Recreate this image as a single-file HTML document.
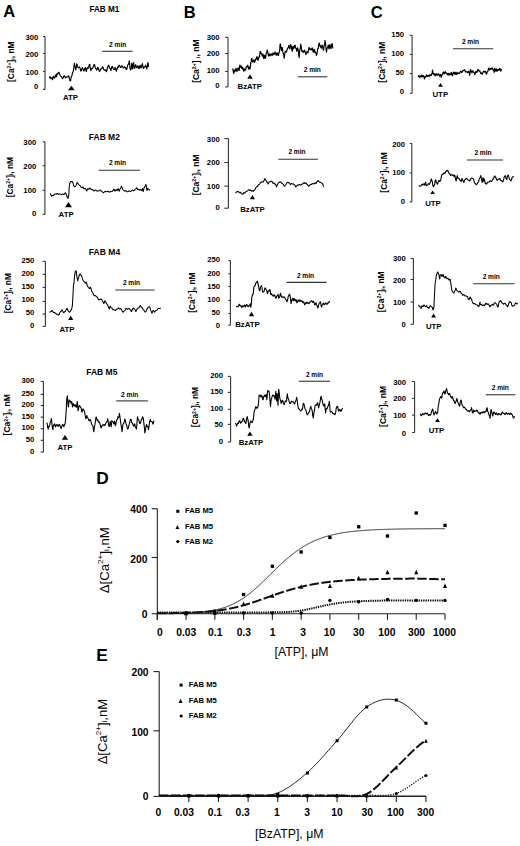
<!DOCTYPE html>
<html><head><meta charset="utf-8"><style>
html,body{margin:0;padding:0;background:#fff;overflow:hidden;width:520px;height:846px;}
svg{display:block;font-family:"Liberation Sans", sans-serif;}
</style></head><body>
<svg width="520" height="846" viewBox="0 0 520 846">
<rect width="520" height="846" fill="#fff"/>
<text x="9.2" y="17.3" font-size="16.5" font-weight="bold" text-anchor="middle" >A</text>
<text x="189.7" y="17.5" font-size="16.5" font-weight="bold" text-anchor="middle" >B</text>
<text x="376.6" y="18" font-size="16.5" font-weight="bold" text-anchor="middle" >C</text>
<text x="96.2" y="483.5" font-size="17.3" font-weight="bold" text-anchor="start" >D</text>
<text x="96.3" y="661.2" font-size="17.3" font-weight="bold" text-anchor="start" >E</text>
<text x="104.4" y="11.6" font-size="8.3" font-weight="bold" text-anchor="middle" textLength="30" lengthAdjust="spacingAndGlyphs">FAB M1</text>
<line x1="45" y1="36.5" x2="45" y2="89.4" stroke="#333" stroke-width="1.1"/>
<line x1="43" y1="36.5" x2="45" y2="36.5" stroke="#333" stroke-width="1.1"/>
<line x1="43" y1="53.5" x2="45" y2="53.5" stroke="#333" stroke-width="1.1"/>
<line x1="43" y1="71.5" x2="45" y2="71.5" stroke="#333" stroke-width="1.1"/>
<line x1="43" y1="89.4" x2="45" y2="89.4" stroke="#333" stroke-width="1.1"/>
<text x="38.4" y="39.95" font-size="7.7" font-weight="bold" text-anchor="end" >300</text>
<text x="38.4" y="57.15" font-size="7.7" font-weight="bold" text-anchor="end" >200</text>
<text x="38.4" y="75.25" font-size="7.7" font-weight="bold" text-anchor="end" >100</text>
<text x="38.4" y="89.45" font-size="7.7" font-weight="bold" text-anchor="end" >0</text>
<text transform="translate(11.2,61.7) rotate(-90)" x="0" y="0" font-size="8.4" font-weight="bold" text-anchor="middle" dominant-baseline="central" textLength="40.6" lengthAdjust="spacingAndGlyphs">[Ca<tspan font-size="5.21" dy="-1.9">2+</tspan><tspan dy="1.9">]</tspan><tspan font-size="5.21" dy="1.6">i</tspan><tspan dy="-1.6">, nM</tspan></text>
<path d="M49.4 78.2 L49.9 76.77 L50.4 77.2 L50.85 78.71 L51.3 78.2 L51.8 77.85 L52.3 79.6 L52.65 79.56 L53 77.2 L53.6 76.44 L54.2 77.7 L54.7 78.14 L55.2 76.3 L55.65 75.05 L56.1 74.8 L56.35 76.62 L56.6 76.8 L57 73.94 L57.4 73.4 L57.85 74.1 L58.3 72.9 L58.9 72.27 L59.5 73.9 L60.2 75.66 L60.9 76.3 L61.65 76.68 L62.4 78.7 L62.95 78.41 L63.5 76.8 L64.15 75.68 L64.8 76.3 L65.3 77.89 L65.8 77.7 L66.5 76.76 L67.2 76.8 L67.9 76.94 L68.6 75.8 L68.95 76.32 L69.3 78.2 L69.95 80.69 L70.6 80.9 L71.05 77.57 L71.5 76.3 L71.85 75.89 L72.2 74.3 L72.6 72.3 L73 72.4 L73.35 71.08 L73.7 68.6 L74.05 65.03 L74.4 63.3 L74.75 65.77 L75.1 67.1 L75.45 68.07 L75.8 70 L76.2 68.01 L76.6 63.8 L77.1 64.62 L77.6 66.7 L78.15 67.79 L78.7 67.6 L79.45 66.91 L80.2 68.6 L80.65 70.91 L81.1 71 L81.85 68.61 L82.6 67.6 L83.3 70.47 L84 71 L84.75 68.43 L85.5 67.6 L85.95 70.52 L86.4 71.5 L86.9 68.92 L87.4 67.6 L88.1 68.31 L88.8 66.7 L89.3 64.52 L89.8 64.3 L90.3 68.58 L90.8 70.5 L91.5 68.43 L92.2 68.6 L92.9 67.85 L93.6 65.7 L94.1 64.46 L94.6 64.7 L95.1 67.2 L95.6 68.5 L96.1 68.72 L96.6 70.1 L97.15 69.28 L97.7 67.4 L98.25 67.75 L98.8 69.5 L99.3 71.26 L99.8 71.2 L100.5 69.37 L101.2 68.5 L101.85 68.62 L102.5 66.8 L103.05 67.18 L103.6 69 L104.25 70.25 L104.9 70.1 L105.6 69.83 L106.3 71.7 L106.85 70.63 L107.4 67.9 L108.1 65.84 L108.8 65.2 L109.35 67.68 L109.9 68.5 L110.4 68.56 L110.9 70.6 L111.3 69.22 L111.7 66.8 L112.4 66.47 L113.1 68.5 L113.75 69.5 L114.4 69.5 L114.95 67.68 L115.5 67.9 L116 70.64 L116.5 71.2 L117.15 68.51 L117.8 66.8 L118.35 67.05 L118.9 65.2 L119.6 65.56 L120.3 67.4 L121 67.5 L121.7 65.8 L122.45 66.36 L123.2 67.9 L123.9 67.86 L124.6 66.8 L125.4 67.54 L126.2 69.5 L126.75 69.32 L127.3 66.8 L127.85 64.88 L128.4 64.2 L128.8 63.57 L129.2 60.9 L129.6 63.25 L130 67.9 L130.55 69.86 L131.1 69.5 L131.45 65.57 L131.8 63.1 L132.25 66.79 L132.7 69 L133.15 64.89 L133.6 62.5 L134.1 66.54 L134.6 68.5 L135.15 66.04 L135.7 64.7 L136.35 67.32 L137 67.9 L137.55 65.8 L138.1 65.8 L138.65 68.25 L139.2 68.5 L139.7 66.34 L140.2 65.2 L140.75 67.71 L141.3 67.9 L141.85 65.2 L142.4 63.6 L142.95 66.78 L143.5 68.5 L144 66.73 L144.5 66.8 L145.05 67.14 L145.6 65.2 L146.15 66.38 L146.7 69 L147.25 66.9 L147.8 62.5 L148.2 63.78 L148.6 66.8" fill="none" stroke="#000" stroke-width="1.15" stroke-linejoin="round"/>
<line x1="102.2" y1="51.3" x2="132.5" y2="51.3" stroke="#333" stroke-width="1.1"/>
<text x="117.7" y="47.3" font-size="6.6" font-weight="bold" text-anchor="middle" >2 min</text>
<path d="M68.1 90.3 L74.7 90.3 L71.4 85.7 Z" fill="#000"/>
<text x="70.5" y="99.75" font-size="7.8" font-weight="bold" text-anchor="middle" >ATP</text>
<text x="104.35" y="139.5" font-size="8.3" font-weight="bold" text-anchor="middle" textLength="31" lengthAdjust="spacingAndGlyphs">FAB M2</text>
<line x1="44.9" y1="141.8" x2="44.9" y2="214.4" stroke="#333" stroke-width="1.1"/>
<line x1="42.6" y1="141.8" x2="44.9" y2="141.8" stroke="#333" stroke-width="1.1"/>
<line x1="42.6" y1="165.7" x2="44.9" y2="165.7" stroke="#333" stroke-width="1.1"/>
<line x1="42.6" y1="190.3" x2="44.9" y2="190.3" stroke="#333" stroke-width="1.1"/>
<line x1="42.6" y1="214.4" x2="44.9" y2="214.4" stroke="#333" stroke-width="1.1"/>
<text x="36.2" y="145.05" font-size="7.7" font-weight="bold" text-anchor="end" >300</text>
<text x="36.2" y="168.85" font-size="7.7" font-weight="bold" text-anchor="end" >200</text>
<text x="36.2" y="193.05" font-size="7.7" font-weight="bold" text-anchor="end" >100</text>
<text x="36.2" y="215.65" font-size="7.7" font-weight="bold" text-anchor="end" >0</text>
<text transform="translate(9.8,177.1) rotate(-90)" x="0" y="0" font-size="8.4" font-weight="bold" text-anchor="middle" dominant-baseline="central" textLength="40.4" lengthAdjust="spacingAndGlyphs">[Ca<tspan font-size="5.21" dy="-1.9">2+</tspan><tspan dy="1.9">]</tspan><tspan font-size="5.21" dy="1.6">i</tspan><tspan dy="-1.6">, nM</tspan></text>
<path d="M50 193.5 L50.5 193.94 L51 195 L51.5 195.94 L52 196.2 L52.5 195.5 L53 195.5 L53.5 195.54 L54 194.8 L54.75 194.06 L55.5 194 L56.25 194.13 L57 193.5 L57.5 193.68 L58 194.2 L58.5 194.27 L59 193.8 L59.75 193.76 L60.5 194.5 L61.25 194.67 L62 194.2 L62.75 193.97 L63.5 194.5 L64 194.44 L64.5 194 L65 193.13 L65.5 192.8 L65.85 193.62 L66.2 194 L66.6 194.96 L67 196.5 L67.5 197.8 L68 198.5 L68.4 196.59 L68.8 195 L69 191.21 L69.2 187 L69.5 184.77 L69.8 183 L70.15 182.78 L70.5 181.8 L71 181.46 L71.5 181.8 L71.85 181.85 L72.2 181.5 L72.6 181.9 L73 183 L73.4 184.69 L73.8 186 L74.15 185.94 L74.5 186.5 L75 186.69 L75.5 186.5 L75.85 185.59 L76.2 185 L76.6 184.12 L77 182.5 L77.5 182.79 L78 183.5 L78.75 184.71 L79.5 185.5 L80.25 185.85 L81 187 L81.5 187.77 L82 187.8 L82.5 187.17 L83 187 L83.6 188.39 L84.2 189 L84.85 188.46 L85.5 188.5 L86.15 190.07 L86.8 191 L87.4 189.54 L88 188.5 L88.5 189.14 L89 189 L89.5 188.17 L90 188 L90.75 189.14 L91.5 189.5 L92.25 189.38 L93 190 L93.6 190.73 L94.2 191 L94.85 190.25 L95.5 190 L96.25 190.7 L97 191 L97.5 190.86 L98 191.1 L98.8 191.03 L99.6 190.6 L100.1 190.12 L100.6 190.1 L101.1 191.05 L101.6 191.4 L102.4 191.89 L103.2 192.7 L103.7 192.72 L104.2 192.1 L104.75 191.51 L105.3 191.4 L106.05 191.83 L106.8 191.8 L107.6 191.24 L108.4 191.4 L109.15 192.03 L109.9 192.1 L110.7 191.61 L111.5 191.6 L112.3 191.28 L113.1 190.4 L113.6 189.52 L114.1 189.3 L114.6 190.37 L115.1 191.1 L115.65 189.91 L116.2 189.5 L116.7 190.22 L117.2 190.6 L117.7 189.31 L118.2 188.7 L118.75 190.26 L119.3 191.1 L119.8 189.64 L120.3 188.5 L120.85 187.8 L121.4 186.4 L121.9 187.1 L122.4 188.3 L122.9 189.5 L123.4 190.1 L123.95 190.44 L124.5 191.1 L125.15 191.02 L125.8 190.6 L126.45 191 L127.1 191.8 L127.85 191.84 L128.6 191.1 L129.4 191.04 L130.2 191.4 L130.95 191.34 L131.7 190.6 L132.5 190.12 L133.3 190.4 L133.95 190.64 L134.6 190.1 L135.1 189.31 L135.6 189 L136.1 188.6 L136.6 187.7 L137.05 188.31 L137.5 189.5 L138 189.75 L138.5 189.3 L139 189.51 L139.5 190.1 L140.05 190.14 L140.6 189.5 L141.1 189.7 L141.6 190.6 L142 189.92 L142.4 188.5 L142.8 189.88 L143.2 191.6 L143.55 190.44 L143.9 188.5 L144.3 187.52 L144.7 186.9 L145.15 185.99 L145.6 184.6 L145.95 184.94 L146.3 185.9 L146.65 188.63 L147 190.6 L147.4 189.21 L147.8 188.3 L148.35 189.28 L148.9 189.5 L149.3 189.66 L149.7 190.4" fill="none" stroke="#000" stroke-width="1.05" stroke-linejoin="round"/>
<line x1="98.5" y1="170.3" x2="140" y2="170.3" stroke="#333" stroke-width="1.1"/>
<text x="117.5" y="165.2" font-size="6.6" font-weight="bold" text-anchor="middle" >2 min</text>
<path d="M65 207.2 L72 207.2 L68.5 202 Z" fill="#000"/>
<text x="66.1" y="216.6" font-size="7.8" font-weight="bold" text-anchor="middle" >ATP</text>
<text x="104.5" y="254.6" font-size="8.3" font-weight="bold" text-anchor="middle" textLength="31.3" lengthAdjust="spacingAndGlyphs">FAB M4</text>
<line x1="45.4" y1="261.4" x2="45.4" y2="326.4" stroke="#333" stroke-width="1.1"/>
<line x1="42.6" y1="261.4" x2="45.4" y2="261.4" stroke="#333" stroke-width="1.1"/>
<line x1="42.6" y1="274.4" x2="45.4" y2="274.4" stroke="#333" stroke-width="1.1"/>
<line x1="42.6" y1="287.4" x2="45.4" y2="287.4" stroke="#333" stroke-width="1.1"/>
<line x1="42.6" y1="301.4" x2="45.4" y2="301.4" stroke="#333" stroke-width="1.1"/>
<line x1="42.6" y1="314.1" x2="45.4" y2="314.1" stroke="#333" stroke-width="1.1"/>
<line x1="42.6" y1="326.4" x2="45.4" y2="326.4" stroke="#333" stroke-width="1.1"/>
<text x="34.3" y="262.75" font-size="7.7" font-weight="bold" text-anchor="end" >250</text>
<text x="34.3" y="275.65" font-size="7.7" font-weight="bold" text-anchor="end" >200</text>
<text x="34.3" y="288.95" font-size="7.7" font-weight="bold" text-anchor="end" >150</text>
<text x="34.3" y="302.25" font-size="7.7" font-weight="bold" text-anchor="end" >100</text>
<text x="34.3" y="314.95" font-size="7.7" font-weight="bold" text-anchor="end" >50</text>
<text x="34.3" y="328.25" font-size="7.7" font-weight="bold" text-anchor="end" >0</text>
<text transform="translate(7.9,293.2) rotate(-90)" x="0" y="0" font-size="8.4" font-weight="bold" text-anchor="middle" dominant-baseline="central" textLength="40.2" lengthAdjust="spacingAndGlyphs">[Ca<tspan font-size="5.21" dy="-1.9">2+</tspan><tspan dy="1.9">]</tspan><tspan font-size="5.21" dy="1.6">i</tspan><tspan dy="-1.6">, nM</tspan></text>
<path d="M49.6 312.6 L50.15 311.66 L50.7 311.5 L51.25 311.42 L51.8 310.5 L52.3 310.56 L52.8 311.5 L53.35 312.53 L53.9 312.6 L54.7 312.58 L55.5 313.4 L56.25 314.13 L57 313.9 L57.8 314.34 L58.6 315.2 L59.15 314.49 L59.7 313.1 L60.2 311.82 L60.7 311.5 L61.25 311.14 L61.8 310 L62.35 310.28 L62.9 311.5 L63.4 312.38 L63.9 312.8 L64.45 311.81 L65 311.5 L65.5 311.02 L66 310 L66.55 308.84 L67.1 308.4 L67.65 310.07 L68.2 311 L68.7 311.35 L69.2 312.1 L69.75 312.07 L70.3 311.5 L70.9 310.17 L71.5 309.4 L71.95 307.77 L72.4 305.2 L72.65 300.52 L72.9 296.7 L73.15 291.7 L73.4 286.2 L73.7 284.16 L74 283 L74.25 280.04 L74.5 276.6 L74.9 273.56 L75.3 271.3 L75.7 271.29 L76.1 270.8 L76.45 273 L76.8 275.6 L77.25 278.71 L77.7 280.9 L78.1 279.04 L78.5 277.7 L78.9 276.61 L79.3 275 L79.8 274.01 L80.3 274 L80.85 275.26 L81.4 275.6 L81.9 276.86 L82.4 278.7 L83.1 280.54 L83.8 281.4 L84.45 281.84 L85.1 283 L85.6 282.85 L86.1 281.9 L86.65 283.49 L87.2 285.6 L87.85 286.88 L88.5 287.2 L88.9 287.59 L89.3 288.8 L89.85 288.49 L90.4 287.2 L90.9 288.08 L91.4 289.9 L91.95 291.49 L92.5 292.5 L93 293.24 L93.5 294.6 L94.05 295.4 L94.6 295.7 L95.15 295.46 L95.7 295.7 L96.2 296.42 L96.7 296.7 L97.25 297.21 L97.8 298.3 L98.3 299.48 L98.8 299.9 L99.35 299.45 L99.9 299.4 L100.25 299.55 L100.6 298.9 L101.2 298.9 L101.8 299.5 L102.4 300.99 L103 301.9 L103.4 302.35 L103.8 303.7 L104.3 302.54 L104.8 300.7 L105.4 301.31 L106 302.5 L106.6 303.74 L107.2 304.3 L107.75 305.09 L108.3 306.7 L108.8 308.12 L109.3 309.1 L109.7 307.11 L110.1 306.1 L110.7 307.21 L111.3 307.9 L111.9 308.08 L112.5 309.1 L113.1 309.85 L113.7 309.7 L114.3 309.79 L114.9 310.3 L115.5 310.44 L116.1 309.7 L116.7 309.09 L117.3 309.1 L117.9 308.87 L118.5 307.9 L119.1 308.3 L119.7 309.1 L120.3 309.01 L120.9 308.5 L121.5 309.45 L122.1 310.9 L122.65 311.99 L123.2 312.1 L123.8 311.24 L124.4 310.9 L125 310.43 L125.6 309.1 L126.2 308.32 L126.8 308.5 L127.4 309.28 L128 309.1 L128.6 308.5 L129.2 308.5 L129.8 309.41 L130.4 309.7 L130.8 310.24 L131.2 311.5 L131.7 311.03 L132.2 309.7 L132.8 308.57 L133.4 307.9 L134 308.92 L134.6 309.1 L135.2 309.86 L135.8 311.5 L136.4 310.76 L137 309.1 L137.6 308.29 L138.2 307.9 L138.75 308.08 L139.3 307.3 L139.8 306.17 L140.3 305.5 L140.9 306.7 L141.5 307.3 L142.1 307.52 L142.7 308.5 L143.3 309.88 L143.9 310.3 L144.5 310.9 L145.1 312.1 L145.8 311.68 L146.5 310.3 L147.1 308.74 L147.7 307.9 L148.3 307.59 L148.9 306.7 L149.5 307 L150.1 307.9 L150.55 309.65 L151 310.9 L151.45 311.88 L151.9 313.3 L152.5 312.04 L153.1 310.3 L153.7 310.79 L154.3 312.1 L154.85 312 L155.4 310.9 L156 310.35 L156.6 310.3 L157.2 309.91 L157.8 309.1 L158.4 308.3 L159 308.5 L159.9 308.56 L160.8 307.9" fill="none" stroke="#000" stroke-width="1.05" stroke-linejoin="round"/>
<line x1="115.4" y1="290" x2="154.6" y2="290" stroke="#333" stroke-width="1.1"/>
<text x="131.5" y="285.2" font-size="6.6" font-weight="bold" text-anchor="middle" >2 min</text>
<path d="M68.05 319.9 L73.35 319.9 L70.7 315.8 Z" fill="#000"/>
<text x="67" y="332" font-size="7.8" font-weight="bold" text-anchor="middle" >ATP</text>
<text x="101.8" y="374.6" font-size="8.3" font-weight="bold" text-anchor="middle" textLength="31.2" lengthAdjust="spacingAndGlyphs">FAB M5</text>
<line x1="43.4" y1="381.4" x2="43.4" y2="452.1" stroke="#333" stroke-width="1.1"/>
<line x1="40.7" y1="381.4" x2="43.4" y2="381.4" stroke="#333" stroke-width="1.1"/>
<line x1="40.7" y1="394.4" x2="43.4" y2="394.4" stroke="#333" stroke-width="1.1"/>
<line x1="40.7" y1="405.5" x2="43.4" y2="405.5" stroke="#333" stroke-width="1.1"/>
<line x1="40.7" y1="417.1" x2="43.4" y2="417.1" stroke="#333" stroke-width="1.1"/>
<line x1="40.7" y1="428.7" x2="43.4" y2="428.7" stroke="#333" stroke-width="1.1"/>
<line x1="40.7" y1="440.3" x2="43.4" y2="440.3" stroke="#333" stroke-width="1.1"/>
<line x1="40.7" y1="452.1" x2="43.4" y2="452.1" stroke="#333" stroke-width="1.1"/>
<text x="34.3" y="382.95" font-size="7.7" font-weight="bold" text-anchor="end" >300</text>
<text x="34.3" y="395.75" font-size="7.7" font-weight="bold" text-anchor="end" >250</text>
<text x="34.3" y="407.05" font-size="7.7" font-weight="bold" text-anchor="end" >200</text>
<text x="34.3" y="418.95" font-size="7.7" font-weight="bold" text-anchor="end" >150</text>
<text x="34.3" y="430.25" font-size="7.7" font-weight="bold" text-anchor="end" >100</text>
<text x="34.3" y="442.05" font-size="7.7" font-weight="bold" text-anchor="end" >50</text>
<text x="34.3" y="453.95" font-size="7.7" font-weight="bold" text-anchor="end" >0</text>
<text transform="translate(7.4,414.8) rotate(-90)" x="0" y="0" font-size="8.4" font-weight="bold" text-anchor="middle" dominant-baseline="central" textLength="41.2" lengthAdjust="spacingAndGlyphs">[Ca<tspan font-size="5.21" dy="-1.9">2+</tspan><tspan dy="1.9">]</tspan><tspan font-size="5.21" dy="1.6">i</tspan><tspan dy="-1.6">, nM</tspan></text>
<path d="M46.6 422.8 L46.95 422.83 L47.3 424.4 L47.75 427.6 L48.2 429.1 L48.6 426.67 L49 426 L49.4 426.42 L49.8 424.9 L50.15 422.46 L50.5 421.7 L50.9 421.1 L51.3 418.6 L51.75 421.88 L52.2 426 L52.55 428.53 L52.9 429.7 L53.3 426.33 L53.7 424.9 L54.1 425.14 L54.5 423.8 L54.95 424.46 L55.4 427 L55.9 426.42 L56.4 424.9 L56.95 424.47 L57.5 425.4 L58 426.25 L58.5 426 L59.05 424.47 L59.6 424.4 L59.95 426.19 L60.3 426.5 L60.7 427.14 L61.1 428.6 L61.5 427.83 L61.9 426 L62.45 424.63 L63 424.4 L63.5 426.4 L64 426.5 L64.45 424.59 L64.9 424.4 L65.25 422.5 L65.6 419.6 L65.9 414.52 L66.2 411.2 L66.35 407.43 L66.5 402.7 L66.75 399.28 L67 397.4 L67.2 397.08 L67.4 395.8 L67.6 398.85 L67.8 402.7 L68.15 405.72 L68.5 406.9 L68.8 402.92 L69.1 400 L69.65 401.08 L70.2 401.1 L70.55 401.16 L70.9 403.2 L71.3 403.32 L71.7 401.6 L72.1 403.68 L72.5 406.9 L72.9 406.28 L73.3 403.7 L73.85 404.08 L74.4 405.9 L74.95 406.16 L75.5 404.8 L75.85 405.63 L76.2 407.5 L76.75 405.51 L77.3 401.6 L77.65 405.29 L78 410.6 L78.4 409.73 L78.8 406.9 L79.35 405.46 L79.9 405.9 L80.45 407.28 L81 407.5 L81.4 409.23 L81.8 412.2 L82.15 411.65 L82.5 410.1 L82.9 409.06 L83.3 409 L83.8 410.54 L84.3 411.2 L84.75 412.97 L85.2 415.9 L85.6 418.01 L86 418.6 L86.4 416.6 L86.8 415.4 L87.3 417.51 L87.8 418 L88.35 418.75 L88.9 420.7 L89.4 420.74 L89.9 419.6 L90.45 419.76 L91 421.7 L91.55 423.99 L92.1 424.9 L92.6 425.36 L93.1 427 L93.5 430.09 L93.9 431.8 L94.3 428.08 L94.7 426 L95.15 423.23 L95.6 419.6 L95.95 417.31 L96.3 417 L96.85 419.26 L97.4 420.7 L97.7 419.8 L98 420.6 L98.55 422.06 L99.1 421.7 L99.65 422.69 L100.2 424.5 L100.75 427.07 L101.3 427.9 L101.9 425.88 L102.5 425.1 L103.05 425.55 L103.6 424.5 L104.15 424.64 L104.7 425.6 L105.25 424.93 L105.8 423.4 L106.35 422.04 L106.9 421.7 L107.35 421.27 L107.8 418.9 L108.2 421.48 L108.6 425.1 L109.05 426.5 L109.5 426.2 L109.9 422.74 L110.3 421.2 L110.75 424.92 L111.2 426.7 L111.55 423.04 L111.9 420.6 L112.35 421.76 L112.8 421.7 L113.2 422.14 L113.6 424 L114.05 423.47 L114.5 421.2 L114.9 422.94 L115.3 425.6 L115.7 425.05 L116.1 422.8 L116.55 420.27 L117 419.5 L117.45 419.02 L117.9 416.7 L118.25 416.83 L118.6 417.8 L119 416.57 L119.4 413.4 L119.85 416 L120.3 419.5 L120.75 423.15 L121.2 425.6 L121.6 427.93 L122 431.8 L122.4 429.4 L122.8 425.1 L123.35 423.35 L123.9 422.8 L124.35 421.8 L124.8 418.9 L125.25 419.87 L125.7 422.3 L126.05 423.99 L126.4 424.5 L126.8 425.61 L127.2 427.9 L127.65 428.96 L128.1 429 L128.55 426.6 L129 425.1 L129.55 423.34 L130.1 420.6 L130.65 419.24 L131.2 419.5 L131.6 422.15 L132 422.8 L132.4 423.15 L132.8 424.5 L133.35 425.78 L133.9 426.2 L134.35 424.11 L134.8 424 L135.25 426.67 L135.7 427.9 L136.1 427.81 L136.5 429 L136.75 425.89 L137 421.7 L137.3 418.44 L137.6 416.7 L138 419 L138.4 419.5 L138.85 420.23 L139.3 422.3 L139.85 423.5 L140.4 423.4 L140.95 421.02 L141.5 419.5 L142.05 419.05 L142.6 416.7 L143.05 417.68 L143.5 419.5 L143.9 423.8 L144.3 426.7 L144.55 428.9 L144.8 432.9 L145.25 431.13 L145.7 428.4 L146.15 425.61 L146.6 424.5 L147.1 426.32 L147.6 426.2 L148 427.07 L148.4 429.5 L148.85 427.62 L149.3 424 L149.75 421.29 L150.2 419.5 L150.75 421.26 L151.3 421.7 L151.85 421.51 L152.4 422.3 L152.8 424.06 L153.2 424 L153.6 421.72 L154 420.6" fill="none" stroke="#000" stroke-width="1.1" stroke-linejoin="round"/>
<line x1="116.2" y1="400.9" x2="147.9" y2="400.9" stroke="#333" stroke-width="1.1"/>
<text x="129.7" y="396.5" font-size="6.6" font-weight="bold" text-anchor="middle" >2 min</text>
<path d="M61.85 439.8 L68.15 439.8 L65 435.1 Z" fill="#000"/>
<text x="65" y="450" font-size="7.8" font-weight="bold" text-anchor="middle" >ATP</text>
<line x1="228" y1="37.3" x2="228" y2="86.9" stroke="#333" stroke-width="1.1"/>
<line x1="225.2" y1="37.3" x2="228" y2="37.3" stroke="#333" stroke-width="1.1"/>
<line x1="225.2" y1="53.5" x2="228" y2="53.5" stroke="#333" stroke-width="1.1"/>
<line x1="225.2" y1="71.5" x2="228" y2="71.5" stroke="#333" stroke-width="1.1"/>
<line x1="225.2" y1="86.9" x2="228" y2="86.9" stroke="#333" stroke-width="1.1"/>
<text x="219.6" y="40.05" font-size="7.7" font-weight="bold" text-anchor="end" >300</text>
<text x="219.6" y="56.25" font-size="7.7" font-weight="bold" text-anchor="end" >200</text>
<text x="219.6" y="73.15" font-size="7.7" font-weight="bold" text-anchor="end" >100</text>
<text x="219.6" y="88.15" font-size="7.7" font-weight="bold" text-anchor="end" >0</text>
<text transform="translate(196,61.2) rotate(-90)" x="0" y="0" font-size="8.4" font-weight="bold" text-anchor="middle" dominant-baseline="central" textLength="43.3" lengthAdjust="spacingAndGlyphs">[Ca<tspan font-size="5.21" dy="-1.9">2+</tspan><tspan dy="1.9">] </tspan><tspan font-size="5.21" dy="1.6">i</tspan><tspan dy="-1.6">, nM</tspan></text>
<path d="M232.5 69.5 L232.85 68.86 L233.2 71 L233.6 73.52 L234 73 L234.25 70.17 L234.5 70.5 L235 71.74 L235.5 69.5 L236 68.33 L236.5 70.2 L237 71.57 L237.5 69.5 L238 68 L238.5 68 L238.85 70.47 L239.2 70.5 L239.6 66.01 L240 65 L240.4 67.42 L240.8 67 L241.3 66.06 L241.8 68.5 L242.15 68.84 L242.5 67.5 L242.85 67.27 L243.2 69.5 L243.6 71.24 L244 71 L244.5 68.94 L245 69.5 L245.5 70.09 L246 68 L246.4 66.52 L246.8 66.5 L247.15 66.95 L247.5 65.5 L247.85 65.23 L248.2 67 L248.6 69.21 L249 68 L249.4 66.95 L249.8 69 L250.15 68.39 L250.5 66 L250.75 62.42 L251 62 L251.25 61.37 L251.5 59 L251.85 58.36 L252.2 60.5 L252.6 62.11 L253 62 L253.5 60.28 L254 60 L254.5 62.41 L255 61.5 L255.4 59.3 L255.8 59 L256.15 59.45 L256.5 58 L257 56.47 L257.5 58.5 L258 60.41 L258.5 59 L258.85 56.97 L259.2 57 L259.5 57.26 L259.8 54 L260.15 51.45 L260.5 51.5 L260.85 53.7 L261.2 53 L261.6 53.06 L262 55 L262.4 56.24 L262.8 54 L263.15 54.53 L263.5 58 L263.85 58.76 L264.2 56 L264.6 55.31 L265 58 L265.4 58.29 L265.8 56.5 L266.15 53.64 L266.5 53 L266.85 52.4 L267.2 50 L267.6 50.87 L268 53.5 L268.4 55.54 L268.8 56 L269.15 53.95 L269.5 54 L270 55.87 L270.5 55 L271 53.78 L271.5 54 L272 55.7 L272.5 54.5 L273 52.92 L273.5 53.5 L274 54.8 L274.5 54 L275 51.9 L275.5 53 L276 55.24 L276.5 55 L277 52.94 L277.5 53 L278 55.49 L278.5 55.5 L279 52.27 L279.5 52 L279.75 49.08 L280 44.6 L280.45 43.93 L280.9 46.8 L281.25 49.39 L281.6 50.5 L282 47.62 L282.4 47.8 L282.8 51.88 L283.2 52.7 L283.65 54.66 L284.1 58.1 L284.45 57.22 L284.8 53.2 L285.35 51.28 L285.9 51.6 L286.45 52.14 L287 50 L287.55 48.17 L288.1 47.8 L288.45 47.27 L288.8 45.2 L289.25 46.13 L289.7 48.9 L290.15 48.5 L290.6 44.6 L291.1 45.27 L291.6 47.8 L292 50.99 L292.4 51.1 L292.75 46.93 L293.1 46.2 L293.55 48.74 L294 47.8 L294.55 45.41 L295.1 45.2 L295.5 47.9 L295.9 48.4 L296.3 48.46 L296.7 51.1 L297.05 51.01 L297.4 47.8 L297.85 48.31 L298.3 50.5 L298.75 55.53 L299.2 57.5 L299.55 51.92 L299.9 49.5 L300.3 48.45 L300.7 44.1 L301.1 45.74 L301.5 48.9 L301.95 51.74 L302.4 51.1 L302.8 50.83 L303.2 52.2 L303.7 52.44 L304.2 50.5 L304.75 50.22 L305.3 52.7 L305.85 54.66 L306.4 53.2 L306.95 51.61 L307.5 52.2 L308 52.82 L308.5 50 L308.9 47.59 L309.3 47.8 L309.75 49.71 L310.2 49.5 L310.7 48.69 L311.2 50 L311.65 49.81 L312.1 47.8 L312.45 48.35 L312.8 50.5 L313.2 52.23 L313.6 52.2 L314.05 49.39 L314.5 49.5 L315 52.65 L315.5 52.2 L315.95 52.91 L316.4 55.4 L316.8 54.57 L317.2 52.2 L317.55 48.76 L317.9 48.9 L318.25 48.6 L318.6 45.7 L318.95 43.19 L319.3 43 L319.7 45.58 L320.1 46.2 L320.5 45.64 L320.9 47.8 L321.45 48.11 L322 45.2 L322.45 45.29 L322.9 47.8 L323.25 50.08 L323.6 50 L324 46.52 L324.4 44.6 L324.7 44.16 L325 40.3 L325.4 42.49 L325.8 46.2 L326.15 50.45 L326.5 52.2 L326.95 48.37 L327.4 47.8 L327.8 47.36 L328.2 45.2 L328.6 45.54 L329 48.9 L329.4 48.5 L329.8 44.6 L330.2 44.8 L330.6 47.8 L331.05 48.57 L331.5 46.2 L331.85 44.01 L332.2 43.5 L332.6 47.14 L333 48.4" fill="none" stroke="#000" stroke-width="1.15" stroke-linejoin="round"/>
<line x1="297.8" y1="76.8" x2="327.4" y2="76.8" stroke="#333" stroke-width="1.1"/>
<text x="312.3" y="71.5" font-size="6.6" font-weight="bold" text-anchor="middle" >2 min</text>
<path d="M247.25 78.7 L252.75 78.7 L250 74.6 Z" fill="#000"/>
<text x="249.8" y="88.7" font-size="7.8" font-weight="bold" text-anchor="middle" >BzATP</text>
<line x1="228.4" y1="138.6" x2="228.4" y2="208.2" stroke="#333" stroke-width="1.1"/>
<line x1="224.3" y1="138.6" x2="228.4" y2="138.6" stroke="#333" stroke-width="1.1"/>
<line x1="224.3" y1="162.5" x2="228.4" y2="162.5" stroke="#333" stroke-width="1.1"/>
<line x1="224.3" y1="186.1" x2="228.4" y2="186.1" stroke="#333" stroke-width="1.1"/>
<line x1="224.3" y1="208.2" x2="228.4" y2="208.2" stroke="#333" stroke-width="1.1"/>
<text x="219.7" y="141.85" font-size="7.7" font-weight="bold" text-anchor="end" >300</text>
<text x="219.7" y="165.25" font-size="7.7" font-weight="bold" text-anchor="end" >200</text>
<text x="219.7" y="188.65" font-size="7.7" font-weight="bold" text-anchor="end" >100</text>
<text x="219.7" y="210.45" font-size="7.7" font-weight="bold" text-anchor="end" >0</text>
<text transform="translate(195.9,174.9) rotate(-90)" x="0" y="0" font-size="8.4" font-weight="bold" text-anchor="middle" dominant-baseline="central" textLength="40.9" lengthAdjust="spacingAndGlyphs">[Ca<tspan font-size="5.21" dy="-1.9">2+</tspan><tspan dy="1.9">]</tspan><tspan font-size="5.21" dy="1.6">i</tspan><tspan dy="-1.6">, nM</tspan></text>
<path d="M235.6 193.2 L236.05 192.24 L236.5 191.9 L237.05 191.99 L237.6 191.4 L238.15 191.3 L238.7 191.9 L239.3 192.74 L239.9 192.8 L240.35 192.31 L240.8 192.5 L241.3 193.63 L241.8 194 L242.25 193.93 L242.7 194.2 L243.15 193.77 L243.6 192.8 L244.05 192.56 L244.5 193.1 L245 192.92 L245.5 192.1 L246.1 191.37 L246.7 191.4 L247.25 191.14 L247.8 190.5 L248.35 189.83 L248.9 189.7 L249.35 190.32 L249.8 190.5 L250.25 189.96 L250.7 190 L251.1 190.9 L251.5 191.2 L251.95 190.69 L252.4 190.5 L252.85 191.16 L253.3 191.4 L253.85 190.47 L254.4 190 L255 189.48 L255.6 188.2 L256.2 187.16 L256.8 186.8 L257.35 186.55 L257.9 185.9 L258.4 184.85 L258.9 184.5 L259.45 184.19 L260 183.5 L260.45 182.54 L260.9 182.2 L261.5 182.14 L262.1 181.7 L262.55 181.79 L263 182.2 L263.45 181.87 L263.9 180.8 L264.4 179.44 L264.9 178.5 L265.2 179.61 L265.5 180.3 L265.95 180.35 L266.4 181.2 L266.85 182.07 L267.3 182.2 L267.7 182.87 L268.1 184 L268.55 183.49 L269 182.2 L269.45 181.66 L269.9 181.7 L270.45 181.77 L271 181.2 L271.6 181.24 L272.2 181.7 L272.7 182.99 L273.2 183.5 L273.65 182.97 L274.1 183.1 L274.55 183.94 L275 184 L275.45 184.08 L275.9 184.9 L276.25 186.08 L276.6 186.8 L276.95 185.6 L277.3 184.9 L277.75 184.2 L278.2 183.1 L278.7 182.46 L279.2 182.2 L279.65 182.13 L280.1 181.7 L280.7 181.92 L281.3 182.6 L281.9 183.35 L282.5 183.5 L283.05 184.04 L283.6 184.9 L284.15 185.92 L284.7 186.3 L285.15 185.36 L285.6 184.9 L286.1 184.23 L286.6 183.1 L287.2 182.29 L287.8 182.2 L288.25 182.68 L288.7 182.6 L289.15 182.81 L289.6 183.5 L290.05 184.28 L290.5 184.5 L291 183.67 L291.5 183.5 L292.1 183.92 L292.7 184 L293.25 183.86 L293.8 184.5 L294.25 184.87 L294.7 184.9 L295.15 185.51 L295.6 186.8 L296.15 186.71 L296.7 185.9 L297.3 185.24 L297.9 184.9 L298.5 185.15 L299.1 184.7 L299.65 184.55 L300.2 184.9 L300.75 185 L301.3 184.5 L301.9 184.09 L302.5 184 L303 183.72 L303.5 183.1 L303.95 182.65 L304.4 182.6 L304.85 183.44 L305.3 183.5 L305.75 183.09 L306.2 183.1 L306.7 184.14 L307.2 184.5 L307.8 185.02 L308.4 186.3 L308.95 186.24 L309.5 185.4 L310.05 184.71 L310.6 184.5 L311.2 184.5 L311.8 184 L312.4 183.61 L313 183.8 L313.55 184 L314.1 183.5 L314.65 183.01 L315.2 182.9 L315.65 183.54 L316.1 183.5 L316.55 182.25 L317 181.7 L317.5 181.47 L318 180.5 L318.45 180.68 L318.9 181.2 L319.35 182.09 L319.8 182.2 L320.4 182.22 L321 182.6 L321.45 183.09 L321.9 183.1 L322.4 183.49 L322.9 184.5 L323.35 186.03 L323.8 186.8" fill="none" stroke="#000" stroke-width="1.05" stroke-linejoin="round"/>
<line x1="278.25" y1="159.25" x2="318" y2="159.25" stroke="#333" stroke-width="1.1"/>
<text x="297" y="154" font-size="6.6" font-weight="bold" text-anchor="middle" >2 min</text>
<path d="M249.85 199.3 L254.95 199.3 L252.4 194.9 Z" fill="#000"/>
<text x="252.4" y="211.7" font-size="7.8" font-weight="bold" text-anchor="middle" >BzATP</text>
<line x1="230.4" y1="260.5" x2="230.4" y2="325.3" stroke="#333" stroke-width="1.1"/>
<line x1="228.4" y1="260.5" x2="230.4" y2="260.5" stroke="#333" stroke-width="1.1"/>
<line x1="228.4" y1="273.8" x2="230.4" y2="273.8" stroke="#333" stroke-width="1.1"/>
<line x1="228.4" y1="286.5" x2="230.4" y2="286.5" stroke="#333" stroke-width="1.1"/>
<line x1="228.4" y1="300.4" x2="230.4" y2="300.4" stroke="#333" stroke-width="1.1"/>
<line x1="228.4" y1="313.5" x2="230.4" y2="313.5" stroke="#333" stroke-width="1.1"/>
<line x1="228.4" y1="325.3" x2="230.4" y2="325.3" stroke="#333" stroke-width="1.1"/>
<text x="220" y="262.35" font-size="7.7" font-weight="bold" text-anchor="end" >250</text>
<text x="220" y="276.05" font-size="7.7" font-weight="bold" text-anchor="end" >200</text>
<text x="220" y="289.25" font-size="7.7" font-weight="bold" text-anchor="end" >150</text>
<text x="220" y="302.05" font-size="7.7" font-weight="bold" text-anchor="end" >100</text>
<text x="220" y="315.15" font-size="7.7" font-weight="bold" text-anchor="end" >50</text>
<text x="220" y="328.05" font-size="7.7" font-weight="bold" text-anchor="end" >0</text>
<text transform="translate(192.2,292.6) rotate(-90)" x="0" y="0" font-size="8.4" font-weight="bold" text-anchor="middle" dominant-baseline="central" textLength="40.3" lengthAdjust="spacingAndGlyphs">[Ca<tspan font-size="5.21" dy="-1.9">2+</tspan><tspan dy="1.9">]</tspan><tspan font-size="5.21" dy="1.6">i</tspan><tspan dy="-1.6">, nM</tspan></text>
<path d="M236.4 307.3 L237.05 306.33 L237.7 306.6 L238.25 306.63 L238.8 305.3 L239.3 304.3 L239.8 304.7 L240.25 306.02 L240.7 305.8 L241.1 305.87 L241.5 307.3 L242 307.31 L242.5 305.8 L242.95 305.87 L243.4 306.6 L243.9 306.34 L244.4 305 L244.85 305.23 L245.3 307 L245.8 306.48 L246.3 304.7 L246.9 304.5 L247.5 305.8 L247.95 306.57 L248.4 306.6 L248.9 305.55 L249.4 305.6 L249.8 305.19 L250.2 303.9 L250.5 305.02 L250.8 307.3 L251.05 306.2 L251.3 303.9 L251.55 300.22 L251.8 297.2 L252.05 296.62 L252.3 295.2 L252.65 294.55 L253 294.8 L253.35 292.41 L253.7 288.5 L254.05 286.61 L254.4 286.1 L254.85 286 L255.3 285.1 L255.8 283.2 L256.3 282.7 L256.7 282.39 L257.1 281.3 L257.45 281.38 L257.8 282.7 L258.15 284.53 L258.5 285.6 L258.85 287.23 L259.2 289.5 L259.6 290.69 L260 290.4 L260.35 288.08 L260.7 286.6 L261.05 286.52 L261.4 285.6 L261.75 286.26 L262.1 288.5 L262.45 291.14 L262.8 292.3 L263.2 291.64 L263.6 291.9 L264.1 291.23 L264.6 289 L265.05 287.92 L265.5 288 L266 289.65 L266.5 290 L266.85 290.98 L267.2 292.8 L267.5 293.57 L267.8 292.8 L268.2 291.2 L268.6 290.9 L269.1 290.98 L269.6 289.5 L269.95 289.95 L270.3 291.9 L270.65 293.81 L271 294.8 L271.35 293.81 L271.7 293.8 L272.1 294.9 L272.5 295.2 L272.85 295.31 L273.2 296.2 L273.7 295.85 L274.2 294.8 L274.7 295.29 L275.2 296.7 L275.65 298.01 L276.1 298.1 L276.6 296.58 L277.1 295.7 L277.55 295.65 L278 294.3 L278.35 295.72 L278.7 298.1 L279.2 297.87 L279.7 296.7 L280.15 294.29 L280.6 293.3 L281.1 295.8 L281.6 297.2 L282.1 296.73 L282.6 297.2 L283 297.65 L283.4 297 L284.15 296.79 L284.9 297.9 L285.45 299.25 L286 299.9 L286.5 300.06 L287 301.8 L287.5 300.18 L288 297.9 L288.45 295.82 L288.9 295.1 L289.3 295.33 L289.7 294.1 L290.1 295.92 L290.5 298.4 L290.8 301.75 L291.1 303.7 L291.45 301.3 L291.8 299.9 L292.2 299.75 L292.6 298.4 L292.95 299.28 L293.3 300.8 L293.65 299.94 L294 298.4 L294.5 299.19 L295 300.8 L295.45 300.88 L295.9 299.4 L296.4 300.69 L296.9 302.8 L297.4 302.23 L297.9 300.3 L298.35 300.03 L298.8 301.3 L299.3 301.37 L299.8 299.9 L300.3 300.11 L300.8 301.3 L301.25 301.54 L301.7 300.8 L302.2 300.98 L302.7 302.3 L303.15 302.74 L303.6 301.8 L304.1 302.88 L304.6 304.7 L305.1 304.43 L305.6 302.8 L306.05 302.3 L306.5 303.2 L307 303.48 L307.5 302.3 L307.95 302.41 L308.4 303.2 L308.9 303.77 L309.4 302.8 L309.9 301.94 L310.4 301.8 L310.85 301.78 L311.3 300.8 L311.8 300.69 L312.3 301.8 L312.8 302.31 L313.3 301.3 L313.75 301.77 L314.2 303.2 L314.7 304.71 L315.2 304.7 L315.65 303.17 L316.1 302.8 L316.45 304.47 L316.8 305.2 L317.3 306.13 L317.8 308 L318.15 307.21 L318.5 305.6 L318.9 304.04 L319.3 303.2 L319.8 302.89 L320.3 301.8 L320.6 302.35 L320.9 304.2 L321.25 306.45 L321.6 307.1 L322 305.5 L322.4 304.7 L322.8 304.29 L323.2 303.2 L323.65 303.16 L324.1 304.7 L324.6 304.78 L325.1 303.7 L325.55 302.94 L326 303.2 L326.6 304.13 L327.2 304.2 L327.7 302.89 L328.2 302.8 L328.65 303.02 L329.1 301.8 L329.35 301.51 L329.6 302.3" fill="none" stroke="#000" stroke-width="1.1" stroke-linejoin="round"/>
<line x1="286.7" y1="282.4" x2="326.6" y2="282.4" stroke="#333" stroke-width="1.1"/>
<text x="305.5" y="277.5" font-size="6.6" font-weight="bold" text-anchor="middle" >2 min</text>
<path d="M248.85 316.2 L254.15 316.2 L251.5 311.7 Z" fill="#000"/>
<text x="247.5" y="327" font-size="7.8" font-weight="bold" text-anchor="middle" >BzATP</text>
<line x1="230.6" y1="376.4" x2="230.6" y2="442" stroke="#333" stroke-width="1.1"/>
<line x1="227.8" y1="376.4" x2="230.6" y2="376.4" stroke="#333" stroke-width="1.1"/>
<line x1="227.8" y1="392.4" x2="230.6" y2="392.4" stroke="#333" stroke-width="1.1"/>
<line x1="227.8" y1="409.3" x2="230.6" y2="409.3" stroke="#333" stroke-width="1.1"/>
<line x1="227.8" y1="424.4" x2="230.6" y2="424.4" stroke="#333" stroke-width="1.1"/>
<line x1="227.8" y1="442" x2="230.6" y2="442" stroke="#333" stroke-width="1.1"/>
<text x="223.1" y="377.95" font-size="7.7" font-weight="bold" text-anchor="end" >200</text>
<text x="223.1" y="394.25" font-size="7.7" font-weight="bold" text-anchor="end" >150</text>
<text x="223.1" y="411.05" font-size="7.7" font-weight="bold" text-anchor="end" >100</text>
<text x="223.1" y="427.15" font-size="7.7" font-weight="bold" text-anchor="end" >50</text>
<text x="223.1" y="443.95" font-size="7.7" font-weight="bold" text-anchor="end" >0</text>
<text transform="translate(195.4,407.2) rotate(-90)" x="0" y="0" font-size="8.4" font-weight="bold" text-anchor="middle" dominant-baseline="central" textLength="40.3" lengthAdjust="spacingAndGlyphs">[Ca<tspan font-size="5.21" dy="-1.9">2+</tspan><tspan dy="1.9">]</tspan><tspan font-size="5.21" dy="1.6">i</tspan><tspan dy="-1.6">, nM</tspan></text>
<path d="M235.3 423.6 L235.75 423.38 L236.2 424.7 L236.6 426.05 L237 425.7 L237.4 423.52 L237.8 423.1 L238.3 423.52 L238.8 422 L239.35 420.66 L239.9 421 L240.4 423 L240.9 423.1 L241.45 421.88 L242 421.5 L242.5 420.83 L243 418.8 L243.55 418.38 L244.1 419.9 L244.45 421.74 L244.8 422 L245.25 421.86 L245.7 423.6 L246.1 421.97 L246.5 419.4 L246.9 417.37 L247.3 416.7 L247.65 418.85 L248 419.9 L248.35 422.32 L248.7 426.2 L249.05 427.74 L249.4 427.8 L249.65 425.04 L249.9 423.1 L250.2 422.83 L250.5 421.5 L251 421.18 L251.5 422 L252.05 422.7 L252.6 421.5 L252.95 419.84 L253.3 419.9 L253.6 417.25 L253.9 413.6 L254.3 410.87 L254.7 409.9 L255.05 409.28 L255.4 407.7 L255.85 406.68 L256.3 407.2 L256.7 408.23 L257.1 408.3 L257.5 407.35 L257.9 407.2 L258.25 405.47 L258.6 401.9 L258.9 397.92 L259.2 395 L259.6 395.83 L260 395.6 L260.35 395.11 L260.7 396.6 L261.15 397.02 L261.6 395.6 L262 396.08 L262.4 397.7 L262.75 399.73 L263.1 399.8 L263.5 397.23 L263.9 396.1 L264.3 396.36 L264.7 395 L265.15 395.28 L265.6 396.6 L265.95 396.51 L266.3 394.5 L266.55 396.34 L266.8 399.8 L267.1 397.08 L267.4 392.4 L267.75 390.66 L268.1 390.8 L268.55 391.63 L269 391.3 L269.4 393.88 L269.8 397.7 L270.15 402.7 L270.5 406.7 L270.9 402.21 L271.3 398.7 L271.7 398.09 L272.1 396.6 L272.65 395.22 L273.2 395 L273.7 396.06 L274.2 395.6 L274.65 397.05 L275.1 399.3 L275.45 396.11 L275.8 391.3 L276.2 395.5 L276.6 400.9 L276.9 397.79 L277.2 393.5 L277.6 398.41 L278 405.1 L278.35 397.84 L278.7 389.2 L279.1 391.81 L279.5 395.6 L279.95 398.64 L280.4 400.3 L280.75 401.08 L281.1 403.5 L281.65 402.33 L282.2 400.3 L282.7 400.41 L283.2 402.5 L283.75 403.96 L284.3 404.6 L284.85 401.9 L285.4 400.9 L286 401.66 L286.6 400.6 L286.95 396.84 L287.3 393.9 L287.75 397.02 L288.2 398.4 L288.75 399.73 L289.3 402.3 L289.9 403.6 L290.5 403.4 L291.05 401.89 L291.6 401.2 L292.15 401.88 L292.7 401.7 L293.25 401.74 L293.8 402.8 L294.35 404.07 L294.9 403.4 L295.35 401.48 L295.8 400.6 L296.2 399.8 L296.6 397.3 L297.15 399.94 L297.7 404.5 L298.25 407.72 L298.8 409 L299.35 408.94 L299.9 410.1 L300.5 411.01 L301.1 410.7 L301.65 409.39 L302.2 409.5 L302.75 407.32 L303.3 403.4 L303.85 404.04 L304.4 405.6 L304.95 408.4 L305.5 409.5 L306.05 410.32 L306.6 412.9 L307.15 414.67 L307.7 414.6 L308.3 413.03 L308.9 412.3 L309.45 411.62 L310 409 L310.4 407.15 L310.8 406.2 L311.25 408.2 L311.7 409 L312.1 410.43 L312.5 413.4 L312.9 416.6 L313.3 417.9 L313.7 414.25 L314.1 411.8 L314.55 409.95 L315 406.2 L315.45 404.92 L315.9 405.1 L316.45 405.14 L317 404 L317.4 402.81 L317.8 402.8 L318.2 405.86 L318.6 407.9 L319.05 405.75 L319.5 404.5 L319.95 402.49 L320.4 399.5 L320.75 397.04 L321.1 396.2 L321.5 398.85 L321.9 399.5 L322.35 400.95 L322.8 403.4 L323.35 405.23 L323.9 406.2 L324.35 404.11 L324.8 404 L325.2 409.17 L325.6 412.9 L326 410.01 L326.4 408.4 L326.95 408.69 L327.5 407.9 L327.95 405.99 L328.4 405.6 L328.85 404.3 L329.3 401.2 L329.7 405.53 L330.1 411.2 L330.65 412.15 L331.2 411.8 L331.75 411.62 L332.3 412.3 L332.85 413.8 L333.4 413.4 L333.95 413.58 L334.5 414.6 L335.05 414.45 L335.6 412.9 L336.15 408.9 L336.7 406.7 L337.1 406.93 L337.5 406.2 L337.95 407.61 L338.4 410.7 L338.95 411.07 L339.5 409.5 L340.1 409.57 L340.7 411.2 L341.25 411.22 L341.8 409.5 L342.35 408.49 L342.9 408.4" fill="none" stroke="#000" stroke-width="1.1" stroke-linejoin="round"/>
<line x1="298.75" y1="381.25" x2="330" y2="381.25" stroke="#333" stroke-width="1.1"/>
<text x="314.5" y="376.8" font-size="6.6" font-weight="bold" text-anchor="middle" >2 min</text>
<path d="M247.2 435.7 L252.6 435.7 L249.9 431.6 Z" fill="#000"/>
<text x="250.9" y="445" font-size="7.8" font-weight="bold" text-anchor="middle" >BzATP</text>
<line x1="412.1" y1="35.3" x2="412.1" y2="93.3" stroke="#333" stroke-width="1.1"/>
<line x1="409.9" y1="35.3" x2="412.1" y2="35.3" stroke="#333" stroke-width="1.1"/>
<line x1="409.9" y1="54.4" x2="412.1" y2="54.4" stroke="#333" stroke-width="1.1"/>
<line x1="409.9" y1="73.5" x2="412.1" y2="73.5" stroke="#333" stroke-width="1.1"/>
<line x1="409.9" y1="93.3" x2="412.1" y2="93.3" stroke="#333" stroke-width="1.1"/>
<text x="404" y="36.75" font-size="7.7" font-weight="bold" text-anchor="end" >150</text>
<text x="404" y="55.95" font-size="7.7" font-weight="bold" text-anchor="end" >100</text>
<text x="404" y="75.35" font-size="7.7" font-weight="bold" text-anchor="end" >50</text>
<text x="404" y="93.75" font-size="7.7" font-weight="bold" text-anchor="end" >0</text>
<text transform="translate(382.2,62.2) rotate(-90)" x="0" y="0" font-size="8.4" font-weight="bold" text-anchor="middle" dominant-baseline="central" textLength="40.9" lengthAdjust="spacingAndGlyphs">[Ca<tspan font-size="5.21" dy="-1.9">2+</tspan><tspan dy="1.9">]</tspan><tspan font-size="5.21" dy="1.6">i</tspan><tspan dy="-1.6">, nM</tspan></text>
<path d="M418.1 76.8 L418.55 75.63 L419 76 L419.4 77.45 L419.8 77.2 L420.25 75.92 L420.7 76.4 L421.1 76.92 L421.5 75.5 L421.9 75.11 L422.3 76.4 L422.75 76.9 L423.2 75.5 L423.6 75.73 L424 76.8 L424.25 78.53 L424.5 78.9 L424.8 76.88 L425.1 76.8 L425.55 77.19 L426 76 L426.4 74.81 L426.8 75.5 L427.25 76.42 L427.7 76.4 L428.1 75.27 L428.5 75.5 L428.95 76.3 L429.4 76 L429.8 74.62 L430.2 74.7 L430.65 75.84 L431.1 75.5 L431.5 74.24 L431.9 73.8 L432.2 72.43 L432.5 70 L432.7 70.73 L432.9 72.6 L433.25 74.15 L433.6 73.8 L433.9 73.59 L434.2 75.1 L434.5 74.95 L434.8 73.8 L435.15 74.02 L435.5 76 L435.9 75.63 L436.3 74.3 L436.75 73.93 L437.2 75.1 L437.7 74.93 L438.2 73.8 L438.6 73.85 L439 74.7 L439.45 76.27 L439.9 76 L440.2 74.62 L440.5 74.3 L440.95 76.28 L441.4 77.2 L441.8 74.96 L442.2 74.7 L442.55 74.77 L442.9 73 L443.3 72.03 L443.7 72.2 L444.15 73.78 L444.6 73.4 L445 71.83 L445.4 71.7 L445.85 73.16 L446.3 73 L446.7 73.13 L447.1 74.3 L447.55 74.81 L448 73.4 L448.4 73.44 L448.8 75.1 L449.25 75.23 L449.7 73.4 L450.1 73.11 L450.5 74.7 L450.95 74.23 L451.4 72.6 L451.8 73.68 L452.2 76 L452.65 75 L453.1 73 L453.5 72.11 L453.9 72.2 L454.3 73.69 L454.7 74.3 L455 72.67 L455.3 72.2 L455.75 74.21 L456.2 74.7 L456.6 73.05 L457 72.2 L457.45 73.81 L457.9 73.8 L458.5 72.95 L459.1 73.3 L459.5 73.44 L459.9 72.4 L460.5 71.06 L461.1 71.5 L461.55 72.64 L462 72.4 L462.55 70.91 L463.1 70.6 L463.65 70.84 L464.2 69.7 L464.75 69.78 L465.3 71.5 L465.85 72.13 L466.4 71.9 L467.05 71.36 L467.7 72.8 L468.25 72.36 L468.8 71.1 L469.25 72.45 L469.7 75.5 L470.05 73.51 L470.4 69.7 L470.85 69.99 L471.3 71.1 L471.75 72.62 L472.2 72.4 L472.6 70.88 L473 70.6 L473.45 72.25 L473.9 72.4 L474.35 73.09 L474.8 74.6 L475.25 73.48 L475.7 71.5 L476.15 71.44 L476.6 72.4 L477.05 72.27 L477.5 70.2 L478 69.43 L478.5 69.7 L478.95 71.25 L479.4 71.1 L479.85 70.79 L480.3 72.4 L480.75 73.57 L481.2 72.8 L481.65 72.89 L482.1 74.2 L482.55 73.91 L483 72.4 L483.4 71.24 L483.8 71.5 L484.4 72.17 L485 71.1 L485.45 71.49 L485.9 72.8 L486.35 74.1 L486.8 73.7 L487.2 71.72 L487.6 71.5 L487.95 71.32 L488.3 69.3 L488.65 68.23 L489 68 L489.45 69.82 L489.9 69.7 L490.3 68.6 L490.7 68.4 L491.15 69.2 L491.6 68.8 L492.05 67.83 L492.5 68.4 L492.95 70 L493.4 69.7 L493.75 70.45 L494.1 72.4 L494.4 71.35 L494.7 68.4 L495 69.02 L495.3 71.1 L495.7 70.54 L496.1 68.8 L496.5 69.56 L496.9 71.5 L497.35 70.91 L497.8 69.3 L498.25 69.3 L498.7 70.2 L499.15 69.79 L499.6 68.4 L500.05 68.94 L500.5 71.1 L500.95 70.95 L501.4 68.8" fill="none" stroke="#000" stroke-width="1.15" stroke-linejoin="round"/>
<line x1="453" y1="48.75" x2="493.25" y2="48.75" stroke="#333" stroke-width="1.1"/>
<text x="470.5" y="43.6" font-size="6.6" font-weight="bold" text-anchor="middle" >2 min</text>
<path d="M438.05 86.7 L442.95 86.7 L440.5 83.1 Z" fill="#000"/>
<text x="440.3" y="97" font-size="7.8" font-weight="bold" text-anchor="middle" >UTP</text>
<line x1="411.8" y1="143.4" x2="411.8" y2="202" stroke="#333" stroke-width="1.1"/>
<line x1="409.7" y1="143.4" x2="411.8" y2="143.4" stroke="#333" stroke-width="1.1"/>
<line x1="409.7" y1="173" x2="411.8" y2="173" stroke="#333" stroke-width="1.1"/>
<line x1="409.7" y1="202" x2="411.8" y2="202" stroke="#333" stroke-width="1.1"/>
<text x="405" y="146.65" font-size="7.7" font-weight="bold" text-anchor="end" >200</text>
<text x="405" y="175.05" font-size="7.7" font-weight="bold" text-anchor="end" >100</text>
<text x="405" y="203.85" font-size="7.7" font-weight="bold" text-anchor="end" >0</text>
<text transform="translate(383.5,172.5) rotate(-90)" x="0" y="0" font-size="8.4" font-weight="bold" text-anchor="middle" dominant-baseline="central" textLength="40.3" lengthAdjust="spacingAndGlyphs">[Ca<tspan font-size="5.21" dy="-1.9">2+</tspan><tspan dy="1.9">]</tspan><tspan font-size="5.21" dy="1.6">i</tspan><tspan dy="-1.6">, nM</tspan></text>
<path d="M418.9 186.4 L419.45 185.74 L420 186 L420.65 186.11 L421.3 185.2 L421.8 184.22 L422.3 184.3 L422.75 185.13 L423.2 184.8 L423.7 183.79 L424.2 183.8 L424.5 185.07 L424.8 185.2 L425.2 183.5 L425.6 182.3 L426 184.41 L426.4 185.7 L426.85 184.87 L427.3 185.2 L427.8 184.97 L428.3 183.8 L428.9 183.49 L429.5 184.3 L429.95 183.38 L430.4 181.9 L430.9 180.04 L431.4 179 L431.8 180.53 L432.2 181.4 L432.5 182.86 L432.8 185.2 L433.15 186.4 L433.5 186.7 L434 185.51 L434.5 184.8 L434.85 183.17 L435.2 180.9 L435.6 180.11 L436 180 L436.35 181.97 L436.7 182.8 L437 183.03 L437.3 184.3 L437.8 183.4 L438.3 181.9 L438.7 180.62 L439.1 180.4 L439.55 181.19 L440 181.4 L440.4 180.24 L440.8 180 L441.15 178.09 L441.5 175.6 L441.95 174.66 L442.4 174.2 L442.9 174.5 L443.4 173.7 L443.9 172.88 L444.4 172.7 L444.85 173.27 L445.3 173.2 L445.8 171.41 L446.3 170.8 L446.8 171.1 L447.3 170.3 L447.75 170.46 L448.2 171.3 L448.7 172.84 L449.2 173.2 L449.65 173.52 L450.1 174.7 L450.6 175.38 L451.1 175.1 L451.6 174.59 L452.1 174.7 L452.55 175.48 L453 175.1 L453.5 175.36 L454 176.6 L454.35 176.44 L454.7 175.1 L455.05 176.24 L455.4 178.5 L455.8 180.05 L456.2 180.9 L456.7 177.88 L457.2 175.6 L457.65 177.35 L458.1 178.5 L458.6 178.21 L459.1 178.5 L459.55 179.51 L460 180 L460.5 180.35 L461 181.4 L461.5 180.41 L462 178.5 L462.45 179.21 L462.9 180.4 L463.4 181.83 L463.9 182.3 L464.45 180.54 L465 179.5 L465.5 179.35 L466 178.5 L466.6 178.22 L467.2 179 L467.85 179.91 L468.5 180 L469 180.15 L469.5 181 L470 180.66 L470.5 179.5 L471.15 178.26 L471.8 178 L472.4 178.51 L473 178.5 L473.5 179.16 L474 181 L474.5 182.5 L475 183.5 L475.5 183.49 L476 184.5 L476.5 184.79 L477 184 L477.5 183 L478 182.5 L478.5 181.77 L479 180 L479.5 178.38 L480 177.5 L480.4 176.95 L480.8 175.5 L481.15 177.26 L481.5 179.5 L481.85 181.26 L482.2 182.5 L482.6 179.69 L483 177.5 L483.4 180.08 L483.8 181.5 L484.15 179.94 L484.5 179 L484.85 181.76 L485.2 183.5 L485.7 183.18 L486.2 184 L486.7 184.08 L487.2 183 L487.85 182.14 L488.5 182 L489.15 181.87 L489.8 181 L490.4 180.82 L491 181.5 L491.6 181.52 L492.2 180.5 L492.7 179.47 L493.2 179 L493.7 178.51 L494.2 177 L494.6 175.97 L495 176 L495.4 177.3 L495.8 177.5 L496.15 178.25 L496.5 179.5 L497 180.33 L497.5 180 L498 179.23 L498.5 179 L499 179.11 L499.5 178.5 L500 178.79 L500.5 180 L501 180.82 L501.5 180.5 L502 180.89 L502.5 182 L503 181.57 L503.5 180 L504 177.81 L504.5 176.5 L504.85 176.35 L505.2 175.5 L505.6 176.4 L506 178 L506.4 179.05 L506.8 179.5 L507.15 177.48 L507.5 176 L507.85 175.79 L508.2 175 L508.6 175.76 L509 177.5 L509.4 179.1 L509.8 179.5 L510.3 179.95 L510.8 181 L511.3 180.01 L511.8 178.5 L512.3 177.15 L512.8 177 L513.15 176.93 L513.5 176" fill="none" stroke="#000" stroke-width="1.1" stroke-linejoin="round"/>
<line x1="467" y1="160" x2="503" y2="160" stroke="#333" stroke-width="1.1"/>
<text x="483" y="155" font-size="6.6" font-weight="bold" text-anchor="middle" >2 min</text>
<path d="M430.3 194 L434.9 194 L432.6 190.6 Z" fill="#000"/>
<text x="433" y="205.5" font-size="7.8" font-weight="bold" text-anchor="middle" >UTP</text>
<line x1="413.4" y1="258.5" x2="413.4" y2="324.3" stroke="#333" stroke-width="1.1"/>
<line x1="410.5" y1="258.5" x2="413.4" y2="258.5" stroke="#333" stroke-width="1.1"/>
<line x1="410.5" y1="279.5" x2="413.4" y2="279.5" stroke="#333" stroke-width="1.1"/>
<line x1="410.5" y1="302" x2="413.4" y2="302" stroke="#333" stroke-width="1.1"/>
<line x1="410.5" y1="324.3" x2="413.4" y2="324.3" stroke="#333" stroke-width="1.1"/>
<text x="405.9" y="261.05" font-size="7.7" font-weight="bold" text-anchor="end" >300</text>
<text x="405.9" y="282.85" font-size="7.7" font-weight="bold" text-anchor="end" >200</text>
<text x="405.9" y="305.25" font-size="7.7" font-weight="bold" text-anchor="end" >100</text>
<text x="405.9" y="327.45" font-size="7.7" font-weight="bold" text-anchor="end" >0</text>
<text transform="translate(381.2,291.8) rotate(-90)" x="0" y="0" font-size="8.4" font-weight="bold" text-anchor="middle" dominant-baseline="central" textLength="40.9" lengthAdjust="spacingAndGlyphs">[Ca<tspan font-size="5.21" dy="-1.9">2+</tspan><tspan dy="1.9">]</tspan><tspan font-size="5.21" dy="1.6">i</tspan><tspan dy="-1.6">, nM</tspan></text>
<path d="M418.2 305.5 L418.7 305.29 L419.2 306 L419.7 306.76 L420.2 306.5 L420.6 306.97 L421 308.5 L421.4 307.83 L421.8 306 L422.3 305.74 L422.8 306.5 L423.3 306.32 L423.8 305 L424.3 305.25 L424.8 306 L425.3 306.66 L425.8 306.5 L426.3 305.67 L426.8 306 L427.3 307.22 L427.8 307.5 L428.3 307.44 L428.8 308.5 L429.3 307.78 L429.8 306.5 L430.3 305.84 L430.8 306 L431.3 306.83 L431.8 307 L432.15 307.06 L432.5 308 L432.85 309.45 L433.2 310 L433.5 308.76 L433.8 308 L434 304.82 L434.2 301 L434.4 296.66 L434.6 293 L434.8 289.57 L435 285 L435.25 282.48 L435.5 281 L435.75 279.8 L436 278 L436.25 275.97 L436.5 275 L436.85 274.29 L437.2 273 L437.5 272.04 L437.8 272 L438.15 273.04 L438.5 273.5 L438.85 274.51 L439.2 276 L439.5 278.05 L439.8 279 L440 276.68 L440.2 275 L440.6 275.07 L441 274.5 L441.4 274.91 L441.8 276.5 L442.15 276.3 L442.5 275 L442.85 274.41 L443.2 274.5 L443.6 276.34 L444 277 L444.4 277.07 L444.8 278 L445.15 277.73 L445.5 276.5 L446 276.94 L446.5 278 L447 278.83 L447.5 278.5 L448 278.26 L448.5 279 L449 280.09 L449.5 280 L449.85 279.19 L450.2 279.5 L450.5 281.6 L450.8 283 L451.15 285.13 L451.5 288 L451.85 290.05 L452.2 291.5 L452.7 291.71 L453.2 292.5 L453.6 293.01 L454 293 L454.5 291.4 L455 290.5 L455.4 289.71 L455.8 288 L456.15 288.51 L456.5 289.5 L457 290.73 L457.5 291 L458 291.14 L458.5 292 L459 292.1 L459.5 291.5 L460 291.22 L460.5 292 L461 293.16 L461.5 293.5 L462 293.9 L462.5 295 L463 295.16 L463.5 294.5 L464 294.51 L464.5 295.5 L465 296.01 L465.5 296 L466 295.51 L466.5 296.2 L467 296.6 L467.5 296.5 L467.8 296.99 L468.1 298.5 L468.6 299.54 L469.1 299.5 L469.65 297.95 L470.2 296.9 L470.7 298.22 L471.2 298.5 L471.7 299.68 L472.2 301.6 L472.85 303.1 L473.5 303.7 L474.15 303.46 L474.8 303.7 L475.6 304.46 L476.4 304.7 L477.15 304.94 L477.9 305.8 L478.45 306.63 L479 306.3 L479.5 303.89 L480 302.1 L480.35 303.91 L480.7 304.7 L481.25 304.38 L481.8 305.2 L482.45 305.53 L483.1 304.7 L483.8 304.89 L484.5 305.8 L485.1 304.87 L485.7 303.2 L486.25 303.27 L486.8 304.2 L487.3 304.47 L487.8 303.7 L488.45 304.17 L489.1 305.2 L489.6 306.51 L490.1 306.8 L490.6 305.47 L491.1 305.2 L491.65 305.25 L492.2 304.2 L492.7 304.45 L493.2 305.2 L493.7 304.78 L494.2 303.2 L494.75 302.68 L495.3 302.7 L495.8 303.56 L496.3 303.7 L496.75 304.29 L497.2 305.8 L497.7 306.87 L498.2 306.8 L498.7 303.84 L499.2 301.6 L499.75 301.67 L500.3 300.6 L500.8 300.66 L501.3 301.6 L501.8 302.75 L502.3 303.2 L502.85 303.35 L503.4 304.2 L503.9 304 L504.4 303.2 L504.95 303.18 L505.5 303.7 L506 304.74 L506.5 305.2 L507 305.51 L507.5 306.8 L508.05 306.1 L508.6 304.2 L509.1 302.6 L509.6 301.6 L510.15 302.11 L510.7 302.1 L511.2 302.8 L511.7 304.7 L512.2 305.93 L512.7 306.3 L513.25 305.66 L513.8 305.8 L514.3 305.58 L514.8 304.7 L515.3 303.25 L515.8 302.7 L516.35 303.74 L516.9 303.7 L517.3 303.55 L517.7 304.2" fill="none" stroke="#000" stroke-width="1.05" stroke-linejoin="round"/>
<line x1="473.25" y1="283.75" x2="514.5" y2="283.75" stroke="#333" stroke-width="1.1"/>
<text x="491.25" y="279" font-size="6.6" font-weight="bold" text-anchor="middle" >2 min</text>
<path d="M431.15 317.6 L436.05 317.6 L433.6 313.4 Z" fill="#000"/>
<text x="433.75" y="329.3" font-size="7.8" font-weight="bold" text-anchor="middle" >UTP</text>
<line x1="414.6" y1="381.5" x2="414.6" y2="432.5" stroke="#333" stroke-width="1.1"/>
<line x1="412" y1="381.5" x2="414.6" y2="381.5" stroke="#333" stroke-width="1.1"/>
<line x1="412" y1="398.4" x2="414.6" y2="398.4" stroke="#333" stroke-width="1.1"/>
<line x1="412" y1="415.1" x2="414.6" y2="415.1" stroke="#333" stroke-width="1.1"/>
<line x1="412" y1="432.5" x2="414.6" y2="432.5" stroke="#333" stroke-width="1.1"/>
<text x="406.1" y="384.55" font-size="7.7" font-weight="bold" text-anchor="end" >300</text>
<text x="406.1" y="401.05" font-size="7.7" font-weight="bold" text-anchor="end" >200</text>
<text x="406.1" y="418.35" font-size="7.7" font-weight="bold" text-anchor="end" >100</text>
<text x="406.1" y="435.75" font-size="7.7" font-weight="bold" text-anchor="end" >0</text>
<text transform="translate(382.9,406.5) rotate(-90)" x="0" y="0" font-size="8.4" font-weight="bold" text-anchor="middle" dominant-baseline="central" textLength="40.9" lengthAdjust="spacingAndGlyphs">[Ca<tspan font-size="5.21" dy="-1.9">2+</tspan><tspan dy="1.9">]</tspan><tspan font-size="5.21" dy="1.6">i</tspan><tspan dy="-1.6">, nM</tspan></text>
<path d="M420 414 L420.5 414.13 L421 415.5 L421.5 415.68 L422 414.5 L422.6 413.55 L423.2 414 L423.85 414.67 L424.5 413.8 L425.15 412.97 L425.8 413.5 L426.4 414.01 L427 413 L427.5 413.42 L428 414.5 L428.5 415.54 L429 415.5 L429.5 414.48 L430 415 L430.5 415.13 L431 414 L431.4 411.75 L431.8 411 L432.15 410.37 L432.5 409 L432.85 409.7 L433.2 411.5 L433.6 413.69 L434 415 L434.4 413.42 L434.8 413 L435.15 412.85 L435.5 411.5 L435.85 411.92 L436.2 413 L436.5 413.92 L436.8 414 L437.15 413.05 L437.5 413 L437.75 411.76 L438 409 L438.25 406.31 L438.5 405 L438.85 403.4 L439.2 401 L439.6 398.8 L440 398 L440.4 397.64 L440.8 396.5 L441.15 396.63 L441.5 398 L441.85 396.88 L442.2 395 L442.6 393.43 L443 392.5 L443.4 392.49 L443.8 391 L444.15 391.58 L444.5 393 L444.85 393.92 L445.2 394 L445.6 391.21 L446 390 L446.25 389.99 L446.5 388.5 L446.75 389.04 L447 390.5 L447.4 392.78 L447.8 393.5 L448.15 393.42 L448.5 394.5 L448.85 394.65 L449.2 393.5 L449.6 393.58 L450 394.5 L450.4 396.52 L450.8 397 L451.15 396.85 L451.5 398 L451.85 398.03 L452.2 396.5 L452.6 397 L453 399 L453.4 400.21 L453.8 400.5 L454.15 400.76 L454.5 402 L454.85 403.15 L455.2 403.5 L455.6 402.11 L456 401.5 L456.4 400.35 L456.8 398.5 L457.15 399.29 L457.5 401 L457.85 402.61 L458.2 403 L458.6 403.68 L459 405 L459.4 406.15 L459.8 406 L460.15 403.02 L460.5 401 L460.75 400.97 L461 400 L461.4 401.04 L461.8 403.5 L462.15 405.05 L462.5 405.5 L462.85 405.78 L463.2 407 L463.6 407.8 L464 407.5 L464.5 407.09 L465 408 L465.5 409.1 L466 409.5 L466.5 409.21 L467 410.5 L467.5 411.08 L468 411 L468.5 410.57 L469 411.5 L469.5 411.73 L470 410.5 L470.5 409.92 L471 410 L471.25 409.45 L471.5 407.5 L471.85 409 L472.2 411.5 L472.6 412.85 L473 413 L473.4 411.18 L473.8 410 L474.3 411.09 L474.8 411.5 L475.3 410.84 L475.8 411 L476.3 411.28 L476.8 410 L477.3 410.34 L477.8 411.5 L478.3 412.93 L478.8 413 L479.3 412.73 L479.8 414 L480.3 414.02 L480.8 412.5 L481.3 412.26 L481.8 413 L482.3 412.99 L482.8 412 L483.3 411.68 L483.8 412.5 L484.3 412.69 L484.8 411.5 L485.3 411.38 L485.8 412 L486.15 411.18 L486.5 409 L486.85 407.8 L487.2 408 L487.5 410.48 L487.8 411.5 L488.15 411.91 L488.5 413 L488.85 414.77 L489.2 415 L489.6 416.39 L490 418.5 L490.25 416.23 L490.5 413 L490.85 410.64 L491.2 409.5 L491.5 411.51 L491.8 412 L492.15 413.52 L492.5 416 L492.85 415.76 L493.2 414 L493.6 412.42 L494 412 L494.4 412.97 L494.8 413 L495.15 413.28 L495.5 414.5 L495.85 414.16 L496.2 413 L496.6 413.14 L497 414 L497.4 414.89 L497.8 415 L498.3 413.6 L498.8 413.5 L499.3 414.55 L499.8 414 L500.3 414.1 L500.8 415 L501.3 414.34 L501.8 413 L502.3 411.96 L502.8 412.5 L503.3 413.58 L503.8 413.5 L504.3 413.49 L504.8 414.5 L505.3 414.43 L505.8 413.5 L506.3 412.64 L506.8 413 L507.3 414.22 L507.8 414 L508.3 413.21 L508.8 413.5 L509.3 414.52 L509.8 414.5 L510.3 413.4 L510.8 413 L511.3 414.26 L511.8 414 L512.3 414.91 L512.8 416.5 L513.3 417.81 L513.8 418 L514.3 416.53 L514.8 416.5" fill="none" stroke="#000" stroke-width="1.1" stroke-linejoin="round"/>
<line x1="485.7" y1="394.75" x2="515.2" y2="394.75" stroke="#333" stroke-width="1.1"/>
<text x="500.3" y="390.3" font-size="6.6" font-weight="bold" text-anchor="middle" >2 min</text>
<path d="M435.1 422 L439.9 422 L437.5 418.3 Z" fill="#000"/>
<text x="436.5" y="432.5" font-size="7.8" font-weight="bold" text-anchor="middle" >UTP</text>
<line x1="157.3" y1="508.7" x2="157.3" y2="620" stroke="#222" stroke-width="1.1"/>
<line x1="151.7" y1="508.7" x2="157.3" y2="508.7" stroke="#222" stroke-width="1.1"/>
<text x="147.4" y="512.9" font-size="10.3" font-weight="bold" text-anchor="end" >400</text>
<line x1="151.7" y1="557.5" x2="157.3" y2="557.5" stroke="#222" stroke-width="1.1"/>
<text x="147.4" y="562.5" font-size="10.3" font-weight="bold" text-anchor="end" >200</text>
<line x1="151.7" y1="613.75" x2="157.3" y2="613.75" stroke="#222" stroke-width="1.1"/>
<text x="147.4" y="617.6" font-size="10.3" font-weight="bold" text-anchor="end" >0</text>
<line x1="157.3" y1="613.75" x2="445.0" y2="613.75" stroke="#222" stroke-width="1.1"/>
<line x1="157.3" y1="613.75" x2="157.3" y2="619.8" stroke="#222" stroke-width="1.1"/>
<line x1="186.07" y1="613.75" x2="186.07" y2="619.8" stroke="#222" stroke-width="1.1"/>
<line x1="214.84" y1="613.75" x2="214.84" y2="619.8" stroke="#222" stroke-width="1.1"/>
<line x1="243.61" y1="613.75" x2="243.61" y2="619.8" stroke="#222" stroke-width="1.1"/>
<line x1="272.38" y1="613.75" x2="272.38" y2="619.8" stroke="#222" stroke-width="1.1"/>
<line x1="301.15" y1="613.75" x2="301.15" y2="619.8" stroke="#222" stroke-width="1.1"/>
<line x1="329.92" y1="613.75" x2="329.92" y2="619.8" stroke="#222" stroke-width="1.1"/>
<line x1="358.69" y1="613.75" x2="358.69" y2="619.8" stroke="#222" stroke-width="1.1"/>
<line x1="387.46" y1="613.75" x2="387.46" y2="619.8" stroke="#222" stroke-width="1.1"/>
<line x1="416.23" y1="613.75" x2="416.23" y2="619.8" stroke="#222" stroke-width="1.1"/>
<line x1="445" y1="613.75" x2="445" y2="619.8" stroke="#222" stroke-width="1.1"/>
<text x="159.8" y="636.4" font-size="10.3" font-weight="bold" text-anchor="middle" >0</text>
<text x="186.2" y="636.4" font-size="10.3" font-weight="bold" text-anchor="middle" >0.03</text>
<text x="215.25" y="636.4" font-size="10.3" font-weight="bold" text-anchor="middle" >0.1</text>
<text x="243.8" y="636.4" font-size="10.3" font-weight="bold" text-anchor="middle" >0.3</text>
<text x="272.5" y="636.4" font-size="10.3" font-weight="bold" text-anchor="middle" >1</text>
<text x="303.2" y="636.4" font-size="10.3" font-weight="bold" text-anchor="middle" >3</text>
<text x="329.4" y="636.4" font-size="10.3" font-weight="bold" text-anchor="middle" >10</text>
<text x="358.8" y="636.4" font-size="10.3" font-weight="bold" text-anchor="middle" >30</text>
<text x="386.8" y="636.4" font-size="10.3" font-weight="bold" text-anchor="middle" >100</text>
<text x="416.5" y="636.4" font-size="10.3" font-weight="bold" text-anchor="middle" >300</text>
<text x="444.5" y="636.4" font-size="10.3" font-weight="bold" text-anchor="middle" >1000</text>
<text x="301.5" y="655.5" font-size="12.3" font-weight="normal" text-anchor="middle" >[ATP], μM</text>
<text transform="translate(104.1,560.2) rotate(-90)" x="0" y="0" font-size="12.8" text-anchor="middle" dominant-baseline="central" textLength="66" lengthAdjust="spacingAndGlyphs">Δ[Ca<tspan font-size="7.94" dy="-4.5">2+</tspan><tspan dy="4.5">]</tspan><tspan font-size="7.94" dy="2">i</tspan><tspan dy="-2">,nM</tspan></text>
<rect x="176.3" y="509.8" width="3" height="3" fill="#000"/>
<text x="185" y="512.6" font-size="8" font-weight="bold" text-anchor="start" textLength="28" lengthAdjust="spacingAndGlyphs">FAB M5</text>
<path d="M175.5 529.09 L179.3 529.09 L177.4 524.91 Z" fill="#000"/>
<text x="185" y="529.1" font-size="8" font-weight="bold" text-anchor="start" textLength="28" lengthAdjust="spacingAndGlyphs">FAB M5</text>
<circle cx="177.8" cy="541.6" r="1.6" fill="#000"/>
<text x="185" y="544.3" font-size="8" font-weight="bold" text-anchor="start" textLength="28" lengthAdjust="spacingAndGlyphs">FAB M2</text>
<path d="M157.3 613.51 L157.8 613.51 L158.3 613.5 L158.8 613.5 L159.3 613.5 L159.8 613.49 L160.3 613.49 L160.8 613.49 L161.3 613.48 L161.8 613.48 L162.3 613.47 L162.8 613.47 L163.3 613.46 L163.8 613.46 L164.3 613.46 L164.8 613.45 L165.3 613.45 L165.8 613.44 L166.3 613.43 L166.8 613.43 L167.3 613.42 L167.8 613.42 L168.3 613.41 L168.8 613.41 L169.3 613.4 L169.8 613.39 L170.3 613.38 L170.8 613.38 L171.3 613.37 L171.8 613.36 L172.3 613.35 L172.8 613.35 L173.3 613.34 L173.8 613.33 L174.3 613.32 L174.8 613.31 L175.3 613.3 L175.8 613.29 L176.3 613.28 L176.8 613.27 L177.3 613.26 L177.8 613.25 L178.3 613.24 L178.8 613.22 L179.3 613.21 L179.8 613.2 L180.3 613.18 L180.8 613.17 L181.3 613.16 L181.8 613.14 L182.3 613.13 L182.8 613.11 L183.3 613.1 L183.8 613.08 L184.3 613.06 L184.8 613.04 L185.3 613.03 L185.8 613.01 L186.3 612.99 L186.8 612.97 L187.3 612.95 L187.8 612.92 L188.3 612.9 L188.8 612.88 L189.3 612.86 L189.8 612.83 L190.3 612.81 L190.8 612.78 L191.3 612.76 L191.8 612.73 L192.3 612.7 L192.8 612.67 L193.3 612.64 L193.8 612.61 L194.3 612.58 L194.8 612.55 L195.3 612.51 L195.8 612.48 L196.3 612.44 L196.8 612.4 L197.3 612.37 L197.8 612.33 L198.3 612.29 L198.8 612.24 L199.3 612.2 L199.8 612.16 L200.3 612.11 L200.8 612.07 L201.3 612.02 L201.8 611.97 L202.3 611.92 L202.8 611.86 L203.3 611.81 L203.8 611.75 L204.3 611.7 L204.8 611.64 L205.3 611.58 L205.8 611.51 L206.3 611.45 L206.8 611.38 L207.3 611.32 L207.8 611.25 L208.3 611.18 L208.8 611.1 L209.3 611.03 L209.8 610.95 L210.3 610.87 L210.8 610.79 L211.3 610.7 L211.8 610.61 L212.3 610.53 L212.8 610.43 L213.3 610.34 L213.8 610.24 L214.3 610.14 L214.8 610.04 L215.3 609.94 L215.8 609.83 L216.3 609.72 L216.8 609.61 L217.3 609.49 L217.8 609.37 L218.3 609.25 L218.8 609.13 L219.3 609 L219.8 608.87 L220.3 608.74 L220.8 608.6 L221.3 608.46 L221.8 608.31 L222.3 608.17 L222.8 608.01 L223.3 607.86 L223.8 607.7 L224.3 607.54 L224.8 607.37 L225.3 607.2 L225.8 607.03 L226.3 606.85 L226.8 606.67 L227.3 606.49 L227.8 606.3 L228.3 606.1 L228.8 605.91 L229.3 605.71 L229.8 605.5 L230.3 605.29 L230.8 605.07 L231.3 604.85 L231.8 604.63 L232.3 604.4 L232.8 604.17 L233.3 603.93 L233.8 603.69 L234.3 603.44 L234.8 603.19 L235.3 602.94 L235.8 602.68 L236.3 602.41 L236.8 602.14 L237.3 601.87 L237.8 601.59 L238.3 601.3 L238.8 601.01 L239.3 600.72 L239.8 600.42 L240.3 600.11 L240.8 599.8 L241.3 599.49 L241.8 599.17 L242.3 598.85 L242.8 598.52 L243.3 598.18 L243.8 597.85 L244.3 597.5 L244.8 597.15 L245.3 596.8 L245.8 596.44 L246.3 596.08 L246.8 595.71 L247.3 595.34 L247.8 594.97 L248.3 594.58 L248.8 594.2 L249.3 593.81 L249.8 593.41 L250.3 593.01 L250.8 592.61 L251.3 592.2 L251.8 591.79 L252.3 591.38 L252.8 590.96 L253.3 590.53 L253.8 590.1 L254.3 589.67 L254.8 589.24 L255.3 588.8 L255.8 588.36 L256.3 587.91 L256.8 587.46 L257.3 587.01 L257.8 586.55 L258.3 586.09 L258.8 585.63 L259.3 585.17 L259.8 584.7 L260.3 584.23 L260.8 583.76 L261.3 583.28 L261.8 582.81 L262.3 582.33 L262.8 581.85 L263.3 581.37 L263.8 580.88 L264.3 580.39 L264.8 579.91 L265.3 579.42 L265.8 578.93 L266.3 578.44 L266.8 577.94 L267.3 577.45 L267.8 576.96 L268.3 576.46 L268.8 575.97 L269.3 575.47 L269.8 574.98 L270.3 574.48 L270.8 573.99 L271.3 573.49 L271.8 573 L272.3 572.5 L272.8 572.01 L273.3 571.52 L273.8 571.03 L274.3 570.53 L274.8 570.04 L275.3 569.55 L275.8 569.07 L276.3 568.58 L276.8 568.1 L277.3 567.61 L277.8 567.13 L278.3 566.65 L278.8 566.17 L279.3 565.7 L279.8 565.23 L280.3 564.76 L280.8 564.29 L281.3 563.82 L281.8 563.36 L282.3 562.9 L282.8 562.44 L283.3 561.98 L283.8 561.53 L284.3 561.08 L284.8 560.63 L285.3 560.19 L285.8 559.75 L286.3 559.31 L286.8 558.88 L287.3 558.45 L287.8 558.02 L288.3 557.6 L288.8 557.18 L289.3 556.76 L289.8 556.35 L290.3 555.94 L290.8 555.53 L291.3 555.13 L291.8 554.73 L292.3 554.34 L292.8 553.95 L293.3 553.56 L293.8 553.18 L294.3 552.8 L294.8 552.43 L295.3 552.06 L295.8 551.69 L296.3 551.33 L296.8 550.97 L297.3 550.61 L297.8 550.26 L298.3 549.92 L298.8 549.57 L299.3 549.23 L299.8 548.9 L300.3 548.57 L300.8 548.24 L301.3 547.92 L301.8 547.6 L302.3 547.29 L302.8 546.98 L303.3 546.67 L303.8 546.37 L304.3 546.07 L304.8 545.78 L305.3 545.49 L305.8 545.2 L306.3 544.92 L306.8 544.64 L307.3 544.37 L307.8 544.09 L308.3 543.83 L308.8 543.56 L309.3 543.31 L309.8 543.05 L310.3 542.8 L310.8 542.55 L311.3 542.3 L311.8 542.06 L312.3 541.83 L312.8 541.59 L313.3 541.36 L313.8 541.14 L314.3 540.91 L314.8 540.69 L315.3 540.48 L315.8 540.26 L316.3 540.05 L316.8 539.85 L317.3 539.64 L317.8 539.44 L318.3 539.25 L318.8 539.05 L319.3 538.86 L319.8 538.68 L320.3 538.49 L320.8 538.31 L321.3 538.13 L321.8 537.96 L322.3 537.78 L322.8 537.61 L323.3 537.45 L323.8 537.28 L324.3 537.12 L324.8 536.96 L325.3 536.81 L325.8 536.66 L326.3 536.5 L326.8 536.36 L327.3 536.21 L327.8 536.07 L328.3 535.93 L328.8 535.79 L329.3 535.66 L329.8 535.52 L330.3 535.39 L330.8 535.26 L331.3 535.14 L331.8 535.01 L332.3 534.89 L332.8 534.77 L333.3 534.65 L333.8 534.54 L334.3 534.42 L334.8 534.31 L335.3 534.2 L335.8 534.1 L336.3 533.99 L336.8 533.89 L337.3 533.79 L337.8 533.69 L338.3 533.59 L338.8 533.49 L339.3 533.4 L339.8 533.31 L340.3 533.21 L340.8 533.13 L341.3 533.04 L341.8 532.95 L342.3 532.87 L342.8 532.79 L343.3 532.7 L343.8 532.62 L344.3 532.55 L344.8 532.47 L345.3 532.39 L345.8 532.32 L346.3 532.25 L346.8 532.18 L347.3 532.11 L347.8 532.04 L348.3 531.97 L348.8 531.9 L349.3 531.84 L349.8 531.78 L350.3 531.71 L350.8 531.65 L351.3 531.59 L351.8 531.53 L352.3 531.48 L352.8 531.42 L353.3 531.36 L353.8 531.31 L354.3 531.26 L354.8 531.2 L355.3 531.15 L355.8 531.1 L356.3 531.05 L356.8 531 L357.3 530.96 L357.8 530.91 L358.3 530.87 L358.8 530.82 L359.3 530.78 L359.8 530.73 L360.3 530.69 L360.8 530.65 L361.3 530.61 L361.8 530.57 L362.3 530.53 L362.8 530.49 L363.3 530.45 L363.8 530.42 L364.3 530.38 L364.8 530.35 L365.3 530.31 L365.8 530.28 L366.3 530.24 L366.8 530.21 L367.3 530.18 L367.8 530.15 L368.3 530.12 L368.8 530.09 L369.3 530.06 L369.8 530.03 L370.3 530 L370.8 529.97 L371.3 529.94 L371.8 529.92 L372.3 529.89 L372.8 529.87 L373.3 529.84 L373.8 529.82 L374.3 529.79 L374.8 529.77 L375.3 529.74 L375.8 529.72 L376.3 529.7 L376.8 529.68 L377.3 529.66 L377.8 529.63 L378.3 529.61 L378.8 529.59 L379.3 529.57 L379.8 529.55 L380.3 529.53 L380.8 529.52 L381.3 529.5 L381.8 529.48 L382.3 529.46 L382.8 529.44 L383.3 529.43 L383.8 529.41 L384.3 529.39 L384.8 529.38 L385.3 529.36 L385.8 529.35 L386.3 529.33 L386.8 529.32 L387.3 529.3 L387.8 529.29 L388.3 529.28 L388.8 529.26 L389.3 529.25 L389.8 529.24 L390.3 529.22 L390.8 529.21 L391.3 529.2 L391.8 529.19 L392.3 529.17 L392.8 529.16 L393.3 529.15 L393.8 529.14 L394.3 529.13 L394.8 529.12 L395.3 529.11 L395.8 529.1 L396.3 529.09 L396.8 529.08 L397.3 529.07 L397.8 529.06 L398.3 529.05 L398.8 529.04 L399.3 529.03 L399.8 529.02 L400.3 529.02 L400.8 529.01 L401.3 529 L401.8 528.99 L402.3 528.98 L402.8 528.98 L403.3 528.97 L403.8 528.96 L404.3 528.95 L404.8 528.95 L405.3 528.94 L405.8 528.93 L406.3 528.93 L406.8 528.92 L407.3 528.91 L407.8 528.91 L408.3 528.9 L408.8 528.89 L409.3 528.89 L409.8 528.88 L410.3 528.88 L410.8 528.87 L411.3 528.87 L411.8 528.86 L412.3 528.85 L412.8 528.85 L413.3 528.84 L413.8 528.84 L414.3 528.83 L414.8 528.83 L415.3 528.83 L415.8 528.82 L416.3 528.82 L416.8 528.81 L417.3 528.81 L417.8 528.8 L418.3 528.8 L418.8 528.8 L419.3 528.79 L419.8 528.79 L420.3 528.78 L420.8 528.78 L421.3 528.78 L421.8 528.77 L422.3 528.77 L422.8 528.77 L423.3 528.76 L423.8 528.76 L424.3 528.76 L424.8 528.75 L425.3 528.75 L425.8 528.75 L426.3 528.74 L426.8 528.74 L427.3 528.74 L427.8 528.74 L428.3 528.73 L428.8 528.73 L429.3 528.73 L429.8 528.72 L430.3 528.72 L430.8 528.72 L431.3 528.72 L431.8 528.72 L432.3 528.71 L432.8 528.71 L433.3 528.71 L433.8 528.71 L434.3 528.7 L434.8 528.7 L435.3 528.7 L435.8 528.7 L436.3 528.7 L436.8 528.69 L437.3 528.69 L437.8 528.69 L438.3 528.69 L438.8 528.69 L439.3 528.68 L439.8 528.68 L440.3 528.68 L440.8 528.68 L441.3 528.68 L441.8 528.68 L442.3 528.68 L442.8 528.67 L443.3 528.67 L443.8 528.67 L444.3 528.67 L444.8 528.67 L445 528.67" fill="none" stroke="#111" stroke-width="0.9" stroke-linecap="butt" stroke-linejoin="round"/>
<path d="M157.3 613.29 L157.8 613.29 L158.3 613.28 L158.8 613.28 L159.3 613.28 L159.8 613.27 L160.3 613.27 L160.8 613.26 L161.3 613.26 L161.8 613.26 L162.3 613.25 L162.8 613.25 L163.3 613.24 L163.8 613.24 L164.3 613.23 L164.8 613.23 L165.3 613.22 L165.8 613.22 L166.3 613.21 L166.8 613.21 L167.3 613.2 L167.8 613.2 L168.3 613.19 L168.8 613.18 L169.3 613.18 L169.8 613.17 L170.3 613.17 L170.8 613.16 L171.3 613.15 L171.8 613.15 L172.3 613.14 L172.8 613.13 L173.3 613.12 L173.8 613.11 L174.3 613.11 L174.8 613.1 L175.3 613.09 L175.8 613.08 L176.3 613.07 L176.8 613.06 L177.3 613.05 L177.8 613.04 L178.3 613.03 L178.8 613.02 L179.3 613.01 L179.8 613 L180.3 612.99 L180.8 612.98 L181.3 612.97 L181.8 612.95 L182.3 612.94 L182.8 612.93 L183.3 612.92 L183.8 612.9 L184.3 612.89 L184.8 612.87 L185.3 612.86 L185.8 612.85 L186.3 612.83 L186.8 612.81 L187.3 612.8 L187.8 612.78 L188.3 612.76 L188.8 612.75 L189.3 612.73 L189.8 612.71 L190.3 612.69 L190.8 612.67 L191.3 612.65 L191.8 612.63 L192.3 612.61 L192.8 612.59 L193.3 612.57 L193.8 612.55 L194.3 612.52 L194.8 612.5 L195.3 612.48 L195.8 612.45 L196.3 612.43 L196.8 612.4 L197.3 612.37 L197.8 612.35 L198.3 612.32 L198.8 612.29 L199.3 612.26 L199.8 612.23 L200.3 612.2 L200.8 612.17 L201.3 612.14 L201.8 612.1 L202.3 612.07 L202.8 612.04 L203.3 612 L203.8 611.96 L204.3 611.93 L204.8 611.89 L205.3 611.85 L205.8 611.81 L206.3 611.77 L206.8 611.73 L207.3 611.69 L207.8 611.65 L208.3 611.6 L208.8 611.56 L209.3 611.51 L209.8 611.46 L210.3 611.42 L210.8 611.37 L211.3 611.32 L211.8 611.26 L212.3 611.21 L212.8 611.16 L213.3 611.1 L213.8 611.05 L214.3 610.99 L214.8 610.93 L215.3 610.88 L215.8 610.82 L216.3 610.75 L216.8 610.69 L217.3 610.63 L217.8 610.56 L218.3 610.5 L218.8 610.43 L219.3 610.36 L219.8 610.29 L220.3 610.22 L220.8 610.14 L221.3 610.07 L221.8 610 L222.3 609.92 L222.8 609.84 L223.3 609.76 L223.8 609.68 L224.3 609.6 L224.8 609.51 L225.3 609.43 L225.8 609.34 L226.3 609.25 L226.8 609.16 L227.3 609.07 L227.8 608.98 L228.3 608.88 L228.8 608.79 L229.3 608.69 L229.8 608.59 L230.3 608.49 L230.8 608.39 L231.3 608.29 L231.8 608.18 L232.3 608.07 L232.8 607.97 L233.3 607.86 L233.8 607.74 L234.3 607.63 L234.8 607.52 L235.3 607.4 L235.8 607.28 L236.3 607.17 L236.8 607.05 L237.3 606.92 L237.8 606.8 L238.3 606.68 L238.8 606.55 L239.3 606.42 L239.8 606.29 L240.3 606.16 L240.8 606.03 L241.3 605.89 L241.8 605.76 L242.3 605.62 L242.8 605.48 L243.3 605.34 L243.8 605.2 L244.3 605.06 L244.8 604.92 L245.3 604.77 L245.8 604.62 L246.3 604.48 L246.8 604.33 L247.3 604.18 L247.8 604.02 L248.3 603.87 L248.8 603.72 L249.3 603.56 L249.8 603.4 L250.3 603.25 L250.8 603.09 L251.3 602.93 L251.8 602.77 L252.3 602.6 L252.8 602.44 L253.3 602.28 L253.8 602.11 L254.3 601.95 L254.8 601.78 L255.3 601.61 L255.8 601.44 L256.3 601.27 L256.8 601.1 L257.3 600.93 L257.8 600.76 L258.3 600.59 L258.8 600.41 L259.3 600.24 L259.8 600.07 L260.3 599.89 L260.8 599.72 L261.3 599.54 L261.8 599.37 L262.3 599.19 L262.8 599.01 L263.3 598.84 L263.8 598.66 L264.3 598.48 L264.8 598.3 L265.3 598.12 L265.8 597.95 L266.3 597.77 L266.8 597.59 L267.3 597.41 L267.8 597.23 L268.3 597.05 L268.8 596.88 L269.3 596.7 L269.8 596.52 L270.3 596.34 L270.8 596.16 L271.3 595.99 L271.8 595.81 L272.3 595.63 L272.8 595.45 L273.3 595.28 L273.8 595.1 L274.3 594.93 L274.8 594.75 L275.3 594.58 L275.8 594.4 L276.3 594.23 L276.8 594.06 L277.3 593.89 L277.8 593.72 L278.3 593.54 L278.8 593.37 L279.3 593.21 L279.8 593.04 L280.3 592.87 L280.8 592.7 L281.3 592.54 L281.8 592.37 L282.3 592.21 L282.8 592.04 L283.3 591.88 L283.8 591.72 L284.3 591.56 L284.8 591.4 L285.3 591.24 L285.8 591.08 L286.3 590.93 L286.8 590.77 L287.3 590.62 L287.8 590.46 L288.3 590.31 L288.8 590.16 L289.3 590.01 L289.8 589.86 L290.3 589.71 L290.8 589.56 L291.3 589.42 L291.8 589.27 L292.3 589.13 L292.8 588.99 L293.3 588.85 L293.8 588.71 L294.3 588.57 L294.8 588.43 L295.3 588.3 L295.8 588.16 L296.3 588.03 L296.8 587.9 L297.3 587.77 L297.8 587.64 L298.3 587.51 L298.8 587.38 L299.3 587.26 L299.8 587.13 L300.3 587.01 L300.8 586.89 L301.3 586.77 L301.8 586.65 L302.3 586.53 L302.8 586.42 L303.3 586.3 L303.8 586.19 L304.3 586.07 L304.8 585.96 L305.3 585.85 L305.8 585.74 L306.3 585.63 L306.8 585.53 L307.3 585.42 L307.8 585.32 L308.3 585.22 L308.8 585.11 L309.3 585.01 L309.8 584.91 L310.3 584.82 L310.8 584.72 L311.3 584.62 L311.8 584.53 L312.3 584.44 L312.8 584.34 L313.3 584.25 L313.8 584.16 L314.3 584.08 L314.8 583.99 L315.3 583.9 L315.8 583.82 L316.3 583.73 L316.8 583.65 L317.3 583.57 L317.8 583.49 L318.3 583.41 L318.8 583.33 L319.3 583.25 L319.8 583.18 L320.3 583.1 L320.8 583.03 L321.3 582.95 L321.8 582.88 L322.3 582.81 L322.8 582.74 L323.3 582.67 L323.8 582.6 L324.3 582.54 L324.8 582.47 L325.3 582.4 L325.8 582.34 L326.3 582.28 L326.8 582.21 L327.3 582.15 L327.8 582.09 L328.3 582.03 L328.8 581.97 L329.3 581.91 L329.8 581.86 L330.3 581.8 L330.8 581.75 L331.3 581.69 L331.8 581.64 L332.3 581.58 L332.8 581.53 L333.3 581.48 L333.8 581.43 L334.3 581.38 L334.8 581.33 L335.3 581.28 L335.8 581.23 L336.3 581.19 L336.8 581.14 L337.3 581.1 L337.8 581.05 L338.3 581.01 L338.8 580.96 L339.3 580.92 L339.8 580.88 L340.3 580.84 L340.8 580.8 L341.3 580.76 L341.8 580.72 L342.3 580.68 L342.8 580.64 L343.3 580.6 L343.8 580.56 L344.3 580.53 L344.8 580.49 L345.3 580.46 L345.8 580.42 L346.3 580.39 L346.8 580.35 L347.3 580.32 L347.8 580.29 L348.3 580.26 L348.8 580.23 L349.3 580.19 L349.8 580.16 L350.3 580.13 L350.8 580.1 L351.3 580.08 L351.8 580.05 L352.3 580.02 L352.8 579.99 L353.3 579.96 L353.8 579.94 L354.3 579.91 L354.8 579.89 L355.3 579.86 L355.8 579.84 L356.3 579.81 L356.8 579.79 L357.3 579.76 L357.8 579.74 L358.3 579.72 L358.8 579.69 L359.3 579.67 L359.8 579.65 L360.3 579.63 L360.8 579.61 L361.3 579.59 L361.8 579.57 L362.3 579.55 L362.8 579.53 L363.3 579.51 L363.8 579.49 L364.3 579.47 L364.8 579.45 L365.3 579.43 L365.8 579.41 L366.3 579.4 L366.8 579.38 L367.3 579.36 L367.8 579.35 L368.3 579.33 L368.8 579.31 L369.3 579.3 L369.8 579.28 L370.3 579.27 L370.8 579.25 L371.3 579.24 L371.8 579.22 L372.3 579.21 L372.8 579.19 L373.3 579.18 L373.8 579.17 L374.3 579.15 L374.8 579.14 L375.3 579.13 L375.8 579.11 L376.3 579.1 L376.8 579.09 L377.3 579.08 L377.8 579.07 L378.3 579.05 L378.8 579.04 L379.3 579.03 L379.8 579.02 L380.3 579.01 L380.8 579 L381.3 578.99 L381.8 578.98 L382.3 578.97 L382.8 578.96 L383.3 578.95 L383.8 578.94 L384.3 578.93 L384.8 578.92 L385.3 578.91 L385.8 578.9 L386.3 578.89 L386.8 578.89 L387.3 578.88 L387.8 578.87 L388.3 578.86 L388.8 578.85 L389.3 578.84 L389.8 578.84 L390.3 578.83 L390.8 578.82 L391.3 578.81 L391.8 578.81 L392.3 578.8 L392.8 578.79 L393.3 578.79 L393.8 578.78 L394.3 578.77 L394.8 578.77 L395.3 578.76 L395.8 578.75 L396.3 578.75 L396.8 578.74 L397.3 578.73 L397.8 578.73 L398.3 578.72 L398.8 578.72 L399.3 578.71 L399.8 578.71 L400.3 578.7 L400.8 578.7 L401.3 578.69 L401.8 578.69 L402.3 578.68 L402.8 578.68 L403.3 578.67 L403.8 578.67 L404.3 578.66 L404.8 578.66 L405.3 578.65 L405.8 578.65 L406.3 578.64 L406.8 578.64 L407.3 578.63 L407.8 578.63 L408.3 578.63 L408.8 578.62 L409.3 578.62 L409.8 578.61 L410.3 578.61 L410.8 578.61 L411.3 578.6 L411.8 578.6 L412.3 578.6 L412.8 578.59 L413.3 578.59 L413.8 578.59 L414.3 578.58 L414.8 578.58 L415.3 578.58 L415.8 578.57 L416.3 578.58 L416.8 578.59 L417.3 578.6 L417.8 578.62 L418.3 578.63 L418.8 578.64 L419.3 578.66 L419.8 578.67 L420.3 578.68 L420.8 578.69 L421.3 578.71 L421.8 578.72 L422.3 578.73 L422.8 578.75 L423.3 578.76 L423.8 578.77 L424.3 578.79 L424.8 578.8 L425.3 578.81 L425.8 578.83 L426.3 578.84 L426.8 578.85 L427.3 578.87 L427.8 578.88 L428.3 578.89 L428.8 578.91 L429.3 578.92 L429.8 578.93 L430.3 578.95 L430.8 578.96 L431.3 578.97 L431.8 578.99 L432.3 579 L432.8 579.02 L433.3 579.03 L433.8 579.04 L434.3 579.06 L434.8 579.07 L435.3 579.09 L435.8 579.1 L436.3 579.11 L436.8 579.13 L437.3 579.14 L437.8 579.16 L438.3 579.17 L438.8 579.18 L439.3 579.2 L439.8 579.21 L440.3 579.23 L440.8 579.24 L441.3 579.26 L441.8 579.27 L442.3 579.28 L442.8 579.3 L443.3 579.31 L443.8 579.33 L444.3 579.34 L444.8 579.36 L445 579.36" fill="none" stroke="#111" stroke-width="2.0" stroke-dasharray="9.5 2.5" stroke-linecap="butt" stroke-linejoin="round"/>
<path d="M157.3 612.4 L157.8 612.4 L158.3 612.4 L158.8 612.4 L159.3 612.4 L159.8 612.4 L160.3 612.4 L160.8 612.4 L161.3 612.4 L161.8 612.4 L162.3 612.4 L162.8 612.4 L163.3 612.4 L163.8 612.4 L164.3 612.4 L164.8 612.4 L165.3 612.4 L165.8 612.4 L166.3 612.4 L166.8 612.4 L167.3 612.4 L167.8 612.4 L168.3 612.4 L168.8 612.4 L169.3 612.4 L169.8 612.4 L170.3 612.4 L170.8 612.4 L171.3 612.4 L171.8 612.4 L172.3 612.4 L172.8 612.4 L173.3 612.4 L173.8 612.4 L174.3 612.4 L174.8 612.4 L175.3 612.4 L175.8 612.4 L176.3 612.4 L176.8 612.4 L177.3 612.4 L177.8 612.4 L178.3 612.4 L178.8 612.4 L179.3 612.4 L179.8 612.4 L180.3 612.4 L180.8 612.4 L181.3 612.4 L181.8 612.4 L182.3 612.4 L182.8 612.4 L183.3 612.4 L183.8 612.4 L184.3 612.4 L184.8 612.4 L185.3 612.4 L185.8 612.4 L186.3 612.4 L186.8 612.4 L187.3 612.4 L187.8 612.4 L188.3 612.4 L188.8 612.4 L189.3 612.4 L189.8 612.4 L190.3 612.4 L190.8 612.4 L191.3 612.4 L191.8 612.4 L192.3 612.4 L192.8 612.4 L193.3 612.4 L193.8 612.4 L194.3 612.4 L194.8 612.4 L195.3 612.4 L195.8 612.4 L196.3 612.4 L196.8 612.4 L197.3 612.4 L197.8 612.4 L198.3 612.4 L198.8 612.4 L199.3 612.4 L199.8 612.4 L200.3 612.4 L200.8 612.4 L201.3 612.4 L201.8 612.4 L202.3 612.4 L202.8 612.4 L203.3 612.4 L203.8 612.4 L204.3 612.4 L204.8 612.4 L205.3 612.4 L205.8 612.4 L206.3 612.4 L206.8 612.4 L207.3 612.4 L207.8 612.4 L208.3 612.4 L208.8 612.4 L209.3 612.4 L209.8 612.4 L210.3 612.4 L210.8 612.4 L211.3 612.4 L211.8 612.4 L212.3 612.4 L212.8 612.4 L213.3 612.4 L213.8 612.4 L214.3 612.4 L214.8 612.4 L215.3 612.4 L215.8 612.4 L216.3 612.4 L216.8 612.4 L217.3 612.4 L217.8 612.4 L218.3 612.4 L218.8 612.4 L219.3 612.4 L219.8 612.4 L220.3 612.4 L220.8 612.4 L221.3 612.4 L221.8 612.4 L222.3 612.4 L222.8 612.4 L223.3 612.4 L223.8 612.4 L224.3 612.4 L224.8 612.4 L225.3 612.4 L225.8 612.4 L226.3 612.4 L226.8 612.4 L227.3 612.4 L227.8 612.4 L228.3 612.4 L228.8 612.4 L229.3 612.4 L229.8 612.4 L230.3 612.4 L230.8 612.4 L231.3 612.4 L231.8 612.4 L232.3 612.4 L232.8 612.4 L233.3 612.4 L233.8 612.4 L234.3 612.4 L234.8 612.4 L235.3 612.4 L235.8 612.4 L236.3 612.4 L236.8 612.4 L237.3 612.4 L237.8 612.4 L238.3 612.4 L238.8 612.4 L239.3 612.4 L239.8 612.4 L240.3 612.4 L240.8 612.4 L241.3 612.4 L241.8 612.4 L242.3 612.4 L242.8 612.4 L243.3 612.4 L243.8 612.4 L244.3 612.4 L244.8 612.4 L245.3 612.4 L245.8 612.4 L246.3 612.4 L246.8 612.4 L247.3 612.4 L247.8 612.4 L248.3 612.4 L248.8 612.4 L249.3 612.4 L249.8 612.4 L250.3 612.4 L250.8 612.4 L251.3 612.4 L251.8 612.4 L252.3 612.4 L252.8 612.4 L253.3 612.4 L253.8 612.4 L254.3 612.4 L254.8 612.4 L255.3 612.4 L255.8 612.4 L256.3 612.4 L256.8 612.4 L257.3 612.4 L257.8 612.4 L258.3 612.4 L258.8 612.4 L259.3 612.4 L259.8 612.39 L260.3 612.39 L260.8 612.39 L261.3 612.39 L261.8 612.39 L262.3 612.39 L262.8 612.39 L263.3 612.39 L263.8 612.39 L264.3 612.39 L264.8 612.39 L265.3 612.39 L265.8 612.38 L266.3 612.38 L266.8 612.38 L267.3 612.38 L267.8 612.38 L268.3 612.38 L268.8 612.37 L269.3 612.37 L269.8 612.37 L270.3 612.37 L270.8 612.36 L271.3 612.36 L271.8 612.36 L272.3 612.35 L272.8 612.35 L273.3 612.35 L273.8 612.34 L274.3 612.34 L274.8 612.33 L275.3 612.33 L275.8 612.32 L276.3 612.31 L276.8 612.31 L277.3 612.3 L277.8 612.29 L278.3 612.28 L278.8 612.27 L279.3 612.26 L279.8 612.25 L280.3 612.24 L280.8 612.23 L281.3 612.22 L281.8 612.2 L282.3 612.19 L282.8 612.17 L283.3 612.16 L283.8 612.14 L284.3 612.12 L284.8 612.1 L285.3 612.08 L285.8 612.06 L286.3 612.04 L286.8 612.01 L287.3 611.99 L287.8 611.96 L288.3 611.93 L288.8 611.9 L289.3 611.87 L289.8 611.83 L290.3 611.8 L290.8 611.76 L291.3 611.72 L291.8 611.68 L292.3 611.64 L292.8 611.6 L293.3 611.55 L293.8 611.5 L294.3 611.45 L294.8 611.4 L295.3 611.35 L295.8 611.29 L296.3 611.23 L296.8 611.17 L297.3 611.11 L297.8 611.05 L298.3 610.98 L298.8 610.91 L299.3 610.84 L299.8 610.77 L300.3 610.69 L300.8 610.61 L301.3 610.53 L301.8 610.45 L302.3 610.37 L302.8 610.28 L303.3 610.19 L303.8 610.1 L304.3 610.01 L304.8 609.92 L305.3 609.82 L305.8 609.73 L306.3 609.63 L306.8 609.53 L307.3 609.43 L307.8 609.32 L308.3 609.22 L308.8 609.11 L309.3 609 L309.8 608.9 L310.3 608.79 L310.8 608.67 L311.3 608.56 L311.8 608.45 L312.3 608.34 L312.8 608.22 L313.3 608.11 L313.8 607.99 L314.3 607.88 L314.8 607.76 L315.3 607.64 L315.8 607.53 L316.3 607.41 L316.8 607.29 L317.3 607.18 L317.8 607.06 L318.3 606.94 L318.8 606.83 L319.3 606.71 L319.8 606.6 L320.3 606.48 L320.8 606.37 L321.3 606.26 L321.8 606.14 L322.3 606.03 L322.8 605.92 L323.3 605.81 L323.8 605.7 L324.3 605.59 L324.8 605.49 L325.3 605.38 L325.8 605.28 L326.3 605.17 L326.8 605.07 L327.3 604.97 L327.8 604.87 L328.3 604.77 L328.8 604.67 L329.3 604.58 L329.8 604.48 L330.3 604.39 L330.8 604.3 L331.3 604.21 L331.8 604.12 L332.3 604.03 L332.8 603.95 L333.3 603.86 L333.8 603.78 L334.3 603.7 L334.8 603.62 L335.3 603.54 L335.8 603.46 L336.3 603.39 L336.8 603.31 L337.3 603.24 L337.8 603.17 L338.3 603.1 L338.8 603.03 L339.3 602.96 L339.8 602.9 L340.3 602.83 L340.8 602.77 L341.3 602.71 L341.8 602.65 L342.3 602.59 L342.8 602.53 L343.3 602.48 L343.8 602.42 L344.3 602.37 L344.8 602.32 L345.3 602.26 L345.8 602.21 L346.3 602.17 L346.8 602.12 L347.3 602.07 L347.8 602.03 L348.3 601.98 L348.8 601.94 L349.3 601.9 L349.8 601.86 L350.3 601.82 L350.8 601.78 L351.3 601.74 L351.8 601.7 L352.3 601.67 L352.8 601.63 L353.3 601.6 L353.8 601.56 L354.3 601.53 L354.8 601.5 L355.3 601.47 L355.8 601.44 L356.3 601.41 L356.8 601.38 L357.3 601.35 L357.8 601.32 L358.3 601.3 L358.8 601.27 L359.3 601.25 L359.8 601.22 L360.3 601.2 L360.8 601.18 L361.3 601.16 L361.8 601.13 L362.3 601.11 L362.8 601.09 L363.3 601.07 L363.8 601.05 L364.3 601.03 L364.8 601.02 L365.3 601 L365.8 600.98 L366.3 600.96 L366.8 600.95 L367.3 600.93 L367.8 600.92 L368.3 600.9 L368.8 600.89 L369.3 600.87 L369.8 600.86 L370.3 600.85 L370.8 600.83 L371.3 600.82 L371.8 600.81 L372.3 600.8 L372.8 600.78 L373.3 600.77 L373.8 600.76 L374.3 600.75 L374.8 600.74 L375.3 600.73 L375.8 600.72 L376.3 600.71 L376.8 600.7 L377.3 600.69 L377.8 600.69 L378.3 600.68 L378.8 600.67 L379.3 600.66 L379.8 600.65 L380.3 600.65 L380.8 600.64 L381.3 600.63 L381.8 600.62 L382.3 600.62 L382.8 600.61 L383.3 600.61 L383.8 600.6 L384.3 600.59 L384.8 600.59 L385.3 600.58 L385.8 600.58 L386.3 600.57 L386.8 600.57 L387.3 600.56 L387.8 600.56 L388.3 600.55 L388.8 600.55 L389.3 600.54 L389.8 600.54 L390.3 600.53 L390.8 600.53 L391.3 600.53 L391.8 600.52 L392.3 600.52 L392.8 600.52 L393.3 600.51 L393.8 600.51 L394.3 600.51 L394.8 600.5 L395.3 600.5 L395.8 600.5 L396.3 600.49 L396.8 600.49 L397.3 600.49 L397.8 600.49 L398.3 600.48 L398.8 600.48 L399.3 600.48 L399.8 600.48 L400.3 600.47 L400.8 600.47 L401.3 600.47 L401.8 600.47 L402.3 600.47 L402.8 600.46 L403.3 600.46 L403.8 600.46 L404.3 600.46 L404.8 600.46 L405.3 600.45 L405.8 600.45 L406.3 600.45 L406.8 600.45 L407.3 600.45 L407.8 600.45 L408.3 600.45 L408.8 600.44 L409.3 600.44 L409.8 600.44 L410.3 600.44 L410.8 600.44 L411.3 600.44 L411.8 600.44 L412.3 600.44 L412.8 600.43 L413.3 600.43 L413.8 600.43 L414.3 600.43 L414.8 600.43 L415.3 600.43 L415.8 600.43 L416.3 600.43 L416.8 600.43 L417.3 600.43 L417.8 600.43 L418.3 600.42 L418.8 600.42 L419.3 600.42 L419.8 600.42 L420.3 600.42 L420.8 600.42 L421.3 600.42 L421.8 600.42 L422.3 600.42 L422.8 600.42 L423.3 600.42 L423.8 600.42 L424.3 600.42 L424.8 600.42 L425.3 600.42 L425.8 600.42 L426.3 600.42 L426.8 600.41 L427.3 600.41 L427.8 600.41 L428.3 600.41 L428.8 600.41 L429.3 600.41 L429.8 600.41 L430.3 600.41 L430.8 600.41 L431.3 600.41 L431.8 600.41 L432.3 600.41 L432.8 600.41 L433.3 600.41 L433.8 600.41 L434.3 600.41 L434.8 600.41 L435.3 600.41 L435.8 600.41 L436.3 600.41 L436.8 600.41 L437.3 600.41 L437.8 600.41 L438.3 600.41 L438.8 600.41 L439.3 600.41 L439.8 600.41 L440.3 600.41 L440.8 600.41 L441.3 600.41 L441.8 600.41 L442.3 600.41 L442.8 600.41 L443.3 600.41 L443.8 600.41 L444.3 600.41 L444.8 600.4 L445 600.4" fill="none" stroke="#111" stroke-width="2.0" stroke-dasharray="1.4 0.9" stroke-linecap="butt" stroke-linejoin="round"/>
<rect x="184.42" y="611.55" width="3.3" height="3.3" fill="#000"/>
<rect x="213.19" y="609.6" width="3.3" height="3.3" fill="#000"/>
<rect x="241.96" y="592.85" width="3.3" height="3.3" fill="#000"/>
<rect x="270.73" y="564.6" width="3.3" height="3.3" fill="#000"/>
<rect x="299.5" y="550.35" width="3.3" height="3.3" fill="#000"/>
<rect x="328.27" y="535.85" width="3.3" height="3.3" fill="#000"/>
<rect x="357.04" y="525.15" width="3.3" height="3.3" fill="#000"/>
<rect x="385.81" y="534.35" width="3.3" height="3.3" fill="#000"/>
<rect x="414.58" y="511.35" width="3.3" height="3.3" fill="#000"/>
<rect x="443.35" y="523.75" width="3.3" height="3.3" fill="#000"/>
<path d="M184.07 615.2 L188.07 615.2 L186.07 610.8 Z" fill="#000"/>
<path d="M212.84 614.7 L216.84 614.7 L214.84 610.3 Z" fill="#000"/>
<path d="M241.61 605.95 L245.61 605.95 L243.61 601.55 Z" fill="#000"/>
<path d="M270.38 597.7 L274.38 597.7 L272.38 593.3 Z" fill="#000"/>
<path d="M299.15 588.7 L303.15 588.7 L301.15 584.3 Z" fill="#000"/>
<path d="M327.92 587.9 L331.92 587.9 L329.92 583.5 Z" fill="#000"/>
<path d="M356.69 580.1 L360.69 580.1 L358.69 575.7 Z" fill="#000"/>
<path d="M385.46 574.2 L389.46 574.2 L387.46 569.8 Z" fill="#000"/>
<path d="M414.23 574.2 L418.23 574.2 L416.23 569.8 Z" fill="#000"/>
<path d="M443 587.9 L447 587.9 L445 583.5 Z" fill="#000"/>
<circle cx="186.07" cy="613" r="1.7" fill="#000"/>
<circle cx="214.84" cy="613" r="1.7" fill="#000"/>
<circle cx="243.61" cy="613" r="1.7" fill="#000"/>
<circle cx="272.38" cy="613" r="1.7" fill="#000"/>
<circle cx="301.15" cy="613" r="1.7" fill="#000"/>
<circle cx="329.92" cy="600.4" r="1.7" fill="#000"/>
<circle cx="358.69" cy="601.8" r="1.7" fill="#000"/>
<circle cx="387.46" cy="599.5" r="1.7" fill="#000"/>
<circle cx="416.23" cy="600.4" r="1.7" fill="#000"/>
<circle cx="445" cy="600.4" r="1.7" fill="#000"/>
<line x1="159.2" y1="671.6" x2="159.2" y2="796.4" stroke="#222" stroke-width="1.1"/>
<line x1="153.5" y1="671.6" x2="159.2" y2="671.6" stroke="#222" stroke-width="1.1"/>
<text x="148.6" y="675.8" font-size="10.3" font-weight="bold" text-anchor="end" >200</text>
<line x1="153.5" y1="730.8" x2="159.2" y2="730.8" stroke="#222" stroke-width="1.1"/>
<text x="148.6" y="735.5" font-size="10.3" font-weight="bold" text-anchor="end" >100</text>
<line x1="153.5" y1="796.4" x2="159.2" y2="796.4" stroke="#222" stroke-width="1.1"/>
<text x="148.6" y="799.6" font-size="10.3" font-weight="bold" text-anchor="end" >0</text>
<line x1="159.2" y1="796.2" x2="425.96" y2="796.2" stroke="#222" stroke-width="1.5"/>
<line x1="188.84" y1="796.2" x2="188.84" y2="802" stroke="#222" stroke-width="1.1"/>
<line x1="218.48" y1="796.2" x2="218.48" y2="802" stroke="#222" stroke-width="1.1"/>
<line x1="248.12" y1="796.2" x2="248.12" y2="802" stroke="#222" stroke-width="1.1"/>
<line x1="277.76" y1="796.2" x2="277.76" y2="802" stroke="#222" stroke-width="1.1"/>
<line x1="307.4" y1="796.2" x2="307.4" y2="802" stroke="#222" stroke-width="1.1"/>
<line x1="337.04" y1="796.2" x2="337.04" y2="802" stroke="#222" stroke-width="1.1"/>
<line x1="366.68" y1="796.2" x2="366.68" y2="802" stroke="#222" stroke-width="1.1"/>
<line x1="396.32" y1="796.2" x2="396.32" y2="802" stroke="#222" stroke-width="1.1"/>
<line x1="425.96" y1="796.2" x2="425.96" y2="802" stroke="#222" stroke-width="1.1"/>
<text x="158.3" y="815.8" font-size="10.3" font-weight="bold" text-anchor="middle" >0</text>
<text x="183.9" y="815.8" font-size="10.3" font-weight="bold" text-anchor="middle" >0.03</text>
<text x="214.9" y="815.8" font-size="10.3" font-weight="bold" text-anchor="middle" >0.1</text>
<text x="242.6" y="815.8" font-size="10.3" font-weight="bold" text-anchor="middle" >0.3</text>
<text x="276.8" y="815.8" font-size="10.3" font-weight="bold" text-anchor="middle" >1</text>
<text x="307.2" y="815.8" font-size="10.3" font-weight="bold" text-anchor="middle" >3</text>
<text x="337" y="815.8" font-size="10.3" font-weight="bold" text-anchor="middle" >10</text>
<text x="367.3" y="815.8" font-size="10.3" font-weight="bold" text-anchor="middle" >30</text>
<text x="395.5" y="815.8" font-size="10.3" font-weight="bold" text-anchor="middle" >100</text>
<text x="425.7" y="815.8" font-size="10.3" font-weight="bold" text-anchor="middle" >300</text>
<text x="289.3" y="838" font-size="12.3" font-weight="normal" text-anchor="middle" >[BzATP], μM</text>
<text transform="translate(102.4,731.6) rotate(-90)" x="0" y="0" font-size="12.8" text-anchor="middle" dominant-baseline="central" textLength="65.5" lengthAdjust="spacingAndGlyphs">Δ[Ca<tspan font-size="7.94" dy="-4.5">2+</tspan><tspan dy="4.5">]</tspan><tspan font-size="7.94" dy="2">i</tspan><tspan dy="-2">,nM</tspan></text>
<rect x="179.6" y="683.6" width="3" height="3" fill="#000"/>
<text x="188.8" y="686.6" font-size="8" font-weight="bold" text-anchor="start" textLength="28" lengthAdjust="spacingAndGlyphs">FAB M5</text>
<path d="M178.7 702.89 L182.5 702.89 L180.6 698.71 Z" fill="#000"/>
<text x="188.8" y="702.7" font-size="8" font-weight="bold" text-anchor="start" textLength="28" lengthAdjust="spacingAndGlyphs">FAB M5</text>
<circle cx="181.2" cy="716" r="1.6" fill="#000"/>
<text x="188.8" y="718.4" font-size="8" font-weight="bold" text-anchor="start" textLength="28" lengthAdjust="spacingAndGlyphs">FAB M2</text>
<path d="M159 795.6 L160.77 795.6 L163.06 795.6 L165.76 795.6 L168.78 795.6 L172.05 795.6 L175.46 795.6 L178.94 795.6 L182.38 795.6 L185.69 795.6 L188.8 795.6 L191.77 795.6 L194.73 795.6 L197.69 795.61 L200.65 795.61 L203.61 795.61 L206.57 795.61 L209.53 795.61 L212.48 795.61 L215.44 795.61 L218.4 795.6 L221.36 795.6 L224.32 795.61 L227.28 795.62 L230.24 795.64 L233.21 795.65 L236.17 795.65 L239.13 795.63 L242.09 795.58 L245.04 795.51 L248 795.4 L250.95 795.33 L253.9 795.35 L256.85 795.41 L259.8 795.46 L262.74 795.46 L265.69 795.35 L268.64 795.1 L271.59 794.66 L274.54 793.97 L277.5 793 L280.46 791.75 L283.43 790.27 L286.39 788.59 L289.36 786.73 L292.33 784.7 L295.3 782.52 L298.28 780.21 L301.25 777.79 L304.23 775.28 L307.2 772.7 L310.18 769.99 L313.15 767.09 L316.13 764.03 L319.12 760.85 L322.1 757.57 L325.08 754.23 L328.06 750.84 L331.04 747.45 L334.02 744.07 L337 740.75 L339.98 737.32 L342.96 733.67 L345.94 729.88 L348.93 726.04 L351.91 722.25 L354.89 718.58 L357.86 715.12 L360.83 711.96 L363.8 709.19 L366.75 706.9 L369.69 705 L372.63 703.35 L375.55 701.96 L378.47 700.84 L381.39 699.99 L384.31 699.43 L387.22 699.17 L390.14 699.2 L393.07 699.54 L396 700.2 L398.94 701.24 L401.88 702.69 L404.83 704.5 L407.78 706.62 L410.73 709.01 L413.69 711.62 L416.64 714.39 L419.6 717.29 L422.55 720.26 L425.5 723.25" fill="none" stroke="#111" stroke-width="0.9" stroke-linecap="butt" stroke-linejoin="round"/>
<path d="M159 795.6 L168.35 795.6 L181.05 795.6 L196.3 795.61 L213.29 795.61 L231.24 795.61 L249.33 795.61 L266.77 795.61 L282.77 795.61 L296.51 795.61 L307.2 795.6 L314.98 795.59 L320.74 795.59 L324.84 795.6 L327.65 795.6 L329.5 795.59 L330.77 795.58 L331.79 795.56 L332.94 795.53 L334.55 795.47 L337 795.4 L339.98 795.41 L342.96 795.58 L345.94 795.83 L348.93 796.09 L351.91 796.29 L354.89 796.36 L357.86 796.22 L360.83 795.81 L363.8 795.06 L366.75 793.9 L369.69 792.27 L372.63 790.22 L375.55 787.82 L378.47 785.15 L381.39 782.28 L384.31 779.28 L387.22 776.23 L390.14 773.2 L393.07 770.27 L396 767.5 L398.94 764.75 L401.88 761.87 L404.83 758.9 L407.78 755.91 L410.73 752.96 L413.69 750.1 L416.64 747.39 L419.6 744.89 L422.55 742.66 L425.5 740.75" fill="none" stroke="#111" stroke-width="2.0" stroke-dasharray="9.5 2.5" stroke-linecap="butt" stroke-linejoin="round"/>
<path d="M159 795.4 L170.26 795.4 L185.58 795.4 L203.99 795.4 L224.5 795.4 L246.14 795.41 L267.93 795.41 L288.89 795.41 L308.04 795.41 L324.4 795.4 L337 795.4 L345.98 795.4 L352.45 795.41 L356.84 795.43 L359.6 795.44 L361.17 795.46 L362 795.46 L362.53 795.45 L363.2 795.42 L364.46 795.38 L366.75 795.3 L369.69 795.27 L372.63 795.32 L375.55 795.42 L378.47 795.52 L381.39 795.57 L384.31 795.54 L387.22 795.37 L390.14 795.02 L393.07 794.44 L396 793.6 L398.94 792.43 L401.88 790.96 L404.83 789.23 L407.78 787.32 L410.73 785.29 L413.69 783.2 L416.64 781.11 L419.6 779.09 L422.55 777.2 L425.5 775.5" fill="none" stroke="#111" stroke-width="1.4" stroke-dasharray="1.2 1.4" stroke-linecap="butt" stroke-linejoin="round"/>
<rect x="187.34" y="794.1" width="3" height="3" fill="#000"/>
<rect x="216.98" y="794.1" width="3" height="3" fill="#000"/>
<rect x="246.62" y="794.1" width="3" height="3" fill="#000"/>
<rect x="276.26" y="792.8" width="3" height="3" fill="#000"/>
<rect x="305.9" y="771.5" width="3" height="3" fill="#000"/>
<rect x="335.54" y="739.25" width="3" height="3" fill="#000"/>
<rect x="365.18" y="705.5" width="3" height="3" fill="#000"/>
<rect x="394.82" y="698.5" width="3" height="3" fill="#000"/>
<rect x="424.46" y="721.75" width="3" height="3" fill="#000"/>
<path d="M187.04 797.58 L190.64 797.58 L188.84 793.62 Z" fill="#000"/>
<path d="M216.68 797.58 L220.28 797.58 L218.48 793.62 Z" fill="#000"/>
<path d="M246.32 797.58 L249.92 797.58 L248.12 793.62 Z" fill="#000"/>
<path d="M275.96 797.58 L279.56 797.58 L277.76 793.62 Z" fill="#000"/>
<path d="M305.6 797.58 L309.2 797.58 L307.4 793.62 Z" fill="#000"/>
<path d="M335.24 797.58 L338.84 797.58 L337.04 793.62 Z" fill="#000"/>
<path d="M364.88 797.58 L368.48 797.58 L366.68 793.62 Z" fill="#000"/>
<path d="M394.52 769.48 L398.12 769.48 L396.32 765.52 Z" fill="#000"/>
<path d="M424.16 742.73 L427.76 742.73 L425.96 738.77 Z" fill="#000"/>
<circle cx="188.84" cy="795.6" r="1.5" fill="#000"/>
<circle cx="218.48" cy="795.6" r="1.5" fill="#000"/>
<circle cx="248.12" cy="795.6" r="1.5" fill="#000"/>
<circle cx="277.76" cy="795.6" r="1.5" fill="#000"/>
<circle cx="307.4" cy="795.6" r="1.5" fill="#000"/>
<circle cx="337.04" cy="795.6" r="1.5" fill="#000"/>
<circle cx="366.68" cy="795.6" r="1.5" fill="#000"/>
<circle cx="396.32" cy="793.5" r="1.5" fill="#000"/>
<circle cx="425.96" cy="775.5" r="1.5" fill="#000"/>
</svg>
</body></html>
